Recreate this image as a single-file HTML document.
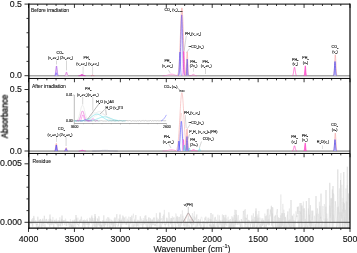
<!DOCTYPE html>
<html><head><meta charset="utf-8"><style>
html,body{margin:0;padding:0;background:#fff;width:357px;height:253px;overflow:hidden}
svg{display:block}
text{will-change:transform}
</style></head><body>
<svg width="357" height="253" viewBox="0 0 357 253">
<rect width="357" height="253" fill="#fff"/>
<defs>
<clipPath id="c1"><rect x="28.5" y="4.1" width="321.5" height="74.35000000000001"/></clipPath>
<clipPath id="c2"><rect x="28.5" y="78.45" width="321.5" height="74.99999999999999"/></clipPath>
<clipPath id="c3"><rect x="28.5" y="153.45" width="321.5" height="74.70000000000002"/></clipPath>
<linearGradient id="gp1" gradientUnits="userSpaceOnUse" x1="0" y1="15" x2="0" y2="70"><stop offset="0" stop-color="#b8a8f2"/><stop offset="0.5" stop-color="#e4e0fb"/><stop offset="1" stop-color="#ffffff"/></linearGradient>
</defs>
<line x1="28.5" x2="350.0" y1="75.8" y2="75.8" stroke="#a8a8a8" stroke-width="1.6"/>
<line x1="28.5" x2="350.0" y1="151.1" y2="151.1" stroke="#a8a8a8" stroke-width="1.6"/>
<g clip-path="url(#c3)">
<polyline points="28.84,228.43 29.34,224.72 29.84,223.88 30.34,223.27 30.84,221.96 31.34,223.54 31.84,219.36 32.34,226.45 32.84,218.17 33.34,223.23 33.84,215.92 34.34,221.97 34.84,222.26 35.34,221.58 35.84,220.37 36.34,225.24 36.84,223.98 37.34,225.04 37.84,216.74 38.34,222.45 38.84,221.75 39.34,219.92 39.84,226.86 40.34,219.00 40.84,222.24 41.34,222.38 41.84,230.30 42.34,219.55 42.84,225.77 43.34,225.97 43.84,226.02 44.34,215.78 44.84,222.25 45.34,220.96 45.84,220.66 46.34,218.95 46.84,222.48 47.34,223.83 47.84,224.07 48.34,221.34 48.84,221.48 49.34,224.64 49.84,226.81 50.34,218.77 50.84,220.28 51.34,222.44 51.84,224.40 52.34,220.15 52.84,224.19 53.34,223.38 53.84,229.37 54.34,220.16 54.84,221.06 55.34,223.68 55.84,221.38 56.34,224.32 56.84,220.50 57.34,223.01 57.84,224.74 58.34,225.64 58.84,220.20 59.34,222.80 59.84,220.54 60.34,225.83 60.84,222.50 61.34,223.39 61.84,219.87 62.34,225.54 62.84,222.15 63.34,221.79 63.84,220.60 64.34,221.62 64.84,220.41 65.34,220.25 65.84,224.79 66.34,226.06 66.84,221.75 67.34,222.18 67.84,221.71 68.34,222.44 68.84,222.62 69.34,226.92 69.84,226.92 70.34,223.68 70.84,223.80 71.34,227.32 71.84,224.82 72.34,228.13 72.84,220.81 73.34,228.01 73.84,225.19 74.34,219.66 74.84,228.30 75.34,229.50 75.84,225.99 76.34,219.18 76.84,221.65 77.34,224.20 77.84,225.03 78.34,224.32 78.84,226.40 79.34,222.23 79.84,219.79 80.34,222.12 80.84,219.17 81.34,216.63 81.84,220.24 82.34,223.97 82.84,227.20 83.34,220.03 83.84,225.25 84.34,219.68 84.84,227.99 85.34,222.17 85.84,220.01 86.34,223.04 86.84,222.63 87.34,220.25 87.84,224.91 88.34,222.20 88.84,224.34 89.34,221.95 89.84,217.74 90.34,221.08 90.84,222.15 91.34,222.87 91.84,216.70 92.34,221.42 92.84,218.23 93.34,221.06 93.84,225.38 94.34,226.84 94.84,221.23 95.34,216.43 95.84,227.02 96.34,221.47 96.84,224.95 97.34,218.43 97.84,222.18 98.34,225.33 98.84,216.28 99.34,218.62 99.84,226.38 100.34,221.07 100.84,227.99 101.34,224.93 101.84,226.61 102.34,221.30 102.84,220.48 103.34,226.28 103.84,215.36 104.34,227.35 104.84,221.62 105.34,224.91 105.84,223.04 106.34,221.26 106.84,221.57 107.34,225.83 107.84,217.22 108.34,220.14 108.84,221.90 109.34,223.95 109.84,223.28 110.34,228.13 110.84,229.83 111.34,221.95 111.84,224.83 112.34,222.73 112.84,228.21 113.34,223.15 113.84,226.70 114.34,218.22 114.84,217.46 115.34,228.90 115.84,221.13 116.34,218.62 116.84,214.19 117.34,220.87 117.84,221.03 118.34,226.12 118.84,218.74 119.34,220.73 119.84,220.10 120.34,223.45 120.84,227.58 121.34,219.96 121.84,223.14 122.34,220.43 122.84,215.53 123.34,218.32 123.84,221.61 124.34,217.53 124.84,223.39 125.34,223.32 125.84,224.70 126.34,222.46 126.84,225.14 127.34,221.11 127.84,221.15 128.34,220.49 128.84,228.41 129.34,223.45 129.84,221.73 130.34,217.08 130.84,223.42 131.34,219.75 131.84,215.60 132.34,222.37 132.84,222.66 133.34,224.76 133.84,227.31 134.34,219.61 134.84,222.54 135.34,222.86 135.84,215.10 136.34,226.79 136.84,222.10 137.34,226.12 137.84,219.80 138.34,221.64 138.84,226.50 139.34,222.69 139.84,220.52 140.34,216.32 140.84,221.34 141.34,221.64 141.84,222.03 142.34,225.20 142.84,229.53 143.34,220.41 143.84,221.14 144.34,224.02 144.84,224.10 145.34,221.08 145.84,215.36 146.34,221.62 146.84,219.32 147.34,225.88 147.84,230.30 148.34,222.55 148.84,217.65 149.34,225.20 149.84,228.18 150.34,218.33 150.84,221.69 151.34,227.95 151.84,219.54 152.34,219.94 152.84,225.25 153.34,218.53 153.84,217.62 154.34,224.00 154.84,226.07 155.34,224.06 155.84,225.59 156.34,226.40 156.84,217.67 157.34,221.63 157.84,223.19 158.34,221.67 158.84,220.19 159.34,220.80 159.84,230.30 160.34,222.74 160.84,229.55 161.34,227.05 161.84,222.24 162.34,223.34 162.84,224.36 163.34,221.93 163.84,214.55 164.34,219.31 164.84,224.99 165.34,224.20 165.84,224.93 166.34,223.35 166.84,217.63 167.34,222.07 167.84,222.20 168.34,225.77 168.84,212.35 169.34,216.45 169.84,219.22 170.34,224.38 170.84,222.13 171.34,218.02 171.84,230.30 172.34,220.36 172.84,218.59 173.34,219.02 173.84,218.19 174.34,220.90 174.84,224.23 175.34,225.72 175.84,227.71 176.34,219.30 176.84,216.73 177.34,224.01 177.84,217.39 178.34,226.23 178.84,223.04 179.34,216.87 179.84,226.35 180.34,226.79 180.84,214.31 181.34,224.15 181.84,219.62 182.34,221.22 182.84,215.75 183.34,219.56 183.84,224.37 184.34,226.45 184.84,224.80 185.34,221.96 185.84,221.54 186.34,223.53 186.84,226.81 187.34,226.74 187.84,222.64 188.34,215.54 188.84,219.01 189.34,222.52 189.84,218.83 190.34,224.19 190.84,221.23 191.34,223.37 191.84,227.99 192.34,221.76 192.84,219.98 193.34,221.10 193.84,224.32 194.34,216.55 194.84,220.07 195.34,219.50 195.84,217.86 196.34,218.26 196.84,214.42 197.34,225.43 197.84,223.43 198.34,219.13 198.84,220.00 199.34,224.09 199.84,224.84 200.34,219.35 200.84,228.70 201.34,225.02 201.84,224.55 202.34,223.24 202.84,222.46 203.34,221.48 203.84,230.30 204.34,226.53 204.84,217.72 205.34,220.35 205.84,216.64 206.34,219.11 206.84,223.78 207.34,223.96 207.84,222.22 208.34,219.47 208.84,221.93 209.34,226.32 209.84,224.51 210.34,226.48 210.84,224.64 211.34,230.30 211.84,226.29 212.34,229.24 212.84,214.41 213.34,228.95 213.84,224.14 214.34,229.50 214.84,218.17 215.34,216.88 215.84,220.91 216.34,219.85 216.84,220.87 217.34,222.58 217.84,226.64 218.34,230.30 218.84,227.70 219.34,219.72 219.84,220.20 220.34,220.59 220.84,223.47 221.34,227.92 221.84,222.81 222.34,219.71 222.84,229.88 223.34,224.68 223.84,215.01 224.34,228.55 224.84,217.48 225.34,224.71 225.84,214.85 226.34,224.86 226.84,225.81 227.34,222.65 227.84,222.25 228.34,221.65 228.84,220.26 229.34,229.05 229.84,220.12 230.34,219.00 230.84,228.68 231.34,222.95 231.84,224.83 232.34,223.31 232.84,218.47 233.34,230.27 233.84,223.21 234.34,215.05 234.84,230.30 235.34,220.04 235.84,225.01 236.34,214.54 236.84,214.95 237.34,217.56 237.84,225.02 238.34,222.74 238.84,223.00 239.34,220.55 239.84,223.28 240.34,226.71 240.84,226.50 241.34,219.00 241.84,222.73 242.34,222.93 242.84,221.81 243.34,211.01 243.84,213.53 244.34,222.76 244.84,223.50 245.34,217.65 245.84,224.89 246.34,218.06 246.84,219.79 247.34,214.55 247.84,229.77 248.34,225.42 248.84,219.96 249.34,220.76 249.84,223.14 250.34,225.43 250.84,224.17 251.34,223.54 251.84,215.50 252.34,218.55 252.84,227.93 253.34,219.51 253.84,220.05 254.34,227.03 254.84,216.93 255.34,221.78 255.84,220.35 256.34,230.30 256.84,224.72 257.34,217.95 257.84,226.99 258.34,217.75 258.84,224.77 259.34,224.39 259.84,227.25 260.34,223.85 260.84,226.06 261.34,230.30 261.84,220.38 262.34,225.54 262.84,221.53 263.34,220.03 263.84,223.98 264.34,227.19 264.84,225.22 265.34,221.61 265.84,216.24 266.34,226.49 266.84,223.47 267.34,209.29 267.84,224.76 268.34,224.13 268.84,218.72 269.34,225.02 269.84,216.84 270.34,209.49 270.84,214.56 271.34,205.74 271.84,225.60 272.34,213.55 272.84,230.30 273.34,228.55 273.84,225.77 274.34,221.59 274.84,218.70 275.34,215.34 275.84,230.30 276.34,214.14 276.84,212.06 277.34,209.07 277.84,230.21 278.34,217.35 278.84,222.22 279.34,230.12 279.84,218.01 280.34,227.86 280.84,215.32 281.34,227.05 281.84,213.19 282.34,225.79 282.84,213.02 283.34,229.07 283.84,228.12 284.34,213.21 284.84,230.30 285.34,217.23 285.84,225.34 286.34,230.30 286.84,230.06 287.34,218.96 287.84,211.42 288.34,224.64 288.84,220.47 289.34,227.40 289.84,219.41 290.34,224.32 290.84,230.30 291.34,226.82 291.84,226.15 292.34,215.57 292.84,219.07 293.34,229.76 293.84,220.34 294.34,221.71 294.84,230.30 295.34,222.11 295.84,220.41 296.34,215.50 296.84,216.86 297.34,206.92 297.84,213.94 298.34,206.54 298.84,226.14 299.34,229.94 299.84,211.08 300.34,213.41 300.84,212.58 301.34,230.30 301.84,205.78 302.34,226.11 302.84,227.44 303.34,208.51 303.84,221.03 304.34,208.31 304.84,230.30 305.34,230.30 305.84,229.30 306.34,201.02 306.84,225.04 307.34,225.63 307.84,230.30 308.34,224.50 308.84,223.97 309.34,214.66 309.84,226.12 310.34,205.16 310.84,228.77 311.34,224.33 311.84,210.63 312.34,219.78 312.84,210.70 313.34,227.87 313.84,228.72 314.34,230.30 314.84,230.30 315.34,223.72 315.84,230.30 316.34,225.97 316.84,214.17 317.34,208.39 317.84,219.28 318.34,230.30 318.84,230.30 319.34,221.71 319.84,206.08 320.34,218.60 320.84,216.78 321.34,230.30 321.84,230.30 322.34,221.96 322.84,220.78 323.34,227.17 323.84,230.30 324.34,228.67 324.84,223.79 325.34,218.57 325.84,230.30 326.34,224.04 326.84,218.60 327.34,230.17 327.84,230.30 328.34,230.30 328.84,230.30 329.34,214.82 329.84,205.62 330.34,217.73 330.84,212.00 331.34,198.28 331.84,220.38 332.34,189.45 332.84,230.30 333.34,193.44 333.84,194.91 334.34,222.97 334.84,222.72 335.34,201.22 335.84,207.72 336.34,228.95 336.84,226.05 337.34,225.47 337.84,207.31 338.34,216.46 338.84,230.30 339.34,230.30 339.84,212.42 340.34,230.30 340.84,229.13 341.34,212.47 341.84,218.50 342.34,209.47 342.84,230.30 343.34,201.97 343.84,212.39 344.34,203.33 344.84,230.30 345.34,209.79 345.84,223.91 346.34,201.36 346.84,224.65 347.34,202.10 347.84,230.30 348.34,193.43 348.84,202.88 349.34,219.77 349.84,207.41" fill="none" stroke="#d2d2d2" stroke-width="0.45"/>
<polyline points="28.86,225.42 29.36,225.33 29.86,220.98 30.36,222.91 30.86,222.72 31.36,223.81 31.86,222.73 32.36,222.96 32.86,226.55 33.36,223.17 33.86,217.80 34.36,220.92 34.86,223.85 35.36,221.98 35.86,221.48 36.36,227.14 36.86,224.43 37.36,225.42 37.86,228.02 38.36,225.92 38.86,228.57 39.36,223.15 39.86,223.23 40.36,219.64 40.86,221.25 41.36,222.62 41.86,220.62 42.36,220.15 42.86,218.57 43.36,223.96 43.86,219.75 44.36,223.41 44.86,228.64 45.36,226.17 45.86,220.55 46.36,219.09 46.86,221.15 47.36,224.13 47.86,220.32 48.36,219.37 48.86,224.67 49.36,221.02 49.86,219.28 50.36,224.78 50.86,219.40 51.36,225.13 51.86,225.22 52.36,223.20 52.86,216.88 53.36,221.61 53.86,222.74 54.36,223.29 54.86,219.72 55.36,221.56 55.86,220.33 56.36,218.64 56.86,222.28 57.36,226.54 57.86,222.13 58.36,227.42 58.86,224.36 59.36,225.79 59.86,217.28 60.36,223.80 60.86,226.50 61.36,220.10 61.86,218.85 62.36,223.94 62.86,220.54 63.36,222.12 63.86,220.08 64.36,225.03 64.86,222.54 65.36,218.62 65.86,219.55 66.36,221.83 66.86,225.64 67.36,221.63 67.86,223.01 68.36,221.45 68.86,225.12 69.36,222.86 69.86,224.86 70.36,219.25 70.86,226.93 71.36,223.40 71.86,226.28 72.36,220.27 72.86,220.26 73.36,222.10 73.86,221.85 74.36,220.74 74.86,222.59 75.36,224.32 75.86,224.49 76.36,217.83 76.86,219.76 77.36,223.38 77.86,217.61 78.36,222.63 78.86,221.70 79.36,224.09 79.86,220.47 80.36,222.92 80.86,219.40 81.36,219.36 81.86,222.65 82.36,221.78 82.86,223.90 83.36,220.22 83.86,223.22 84.36,222.56 84.86,221.77 85.36,223.99 85.86,224.00 86.36,225.08 86.86,219.18 87.36,218.67 87.86,223.91 88.36,230.30 88.86,221.23 89.36,225.39 89.86,221.99 90.36,218.74 90.86,220.95 91.36,223.51 91.86,215.28 92.36,227.65 92.86,220.30 93.36,220.49 93.86,221.75 94.36,225.50 94.86,218.38 95.36,220.23 95.86,222.05 96.36,227.74 96.86,223.24 97.36,226.71 97.86,219.06 98.36,220.91 98.86,222.42 99.36,222.94 99.86,226.30 100.36,224.24 100.86,223.32 101.36,225.37 101.86,226.94 102.36,223.80 102.86,220.34 103.36,220.01 103.86,220.76 104.36,222.46 104.86,226.15 105.36,220.96 105.86,221.25 106.36,218.68 106.86,222.08 107.36,229.68 107.86,224.05 108.36,224.52 108.86,217.64 109.36,229.46 109.86,218.94 110.36,222.83 110.86,224.16 111.36,219.72 111.86,223.18 112.36,220.55 112.86,222.42 113.36,223.63 113.86,223.99 114.36,219.59 114.86,225.74 115.36,217.83 115.86,218.40 116.36,223.95 116.86,225.10 117.36,225.58 117.86,226.64 118.36,224.67 118.86,224.74 119.36,220.67 119.86,223.05 120.36,222.50 120.86,225.01 121.36,227.46 121.86,218.65 122.36,224.60 122.86,222.17 123.36,216.82 123.86,224.56 124.36,221.14 124.86,222.35 125.36,222.33 125.86,216.55 126.36,220.91 126.86,223.87 127.36,218.68 127.86,220.50 128.36,222.01 128.86,216.59 129.36,228.90 129.86,224.41 130.36,224.06 130.86,221.20 131.36,218.29 131.86,226.86 132.36,227.07 132.86,218.28 133.36,213.71 133.86,218.13 134.36,218.59 134.86,225.94 135.36,222.81 135.86,222.06 136.36,224.09 136.86,224.20 137.36,221.58 137.86,220.76 138.36,221.19 138.86,221.13 139.36,223.64 139.86,220.62 140.36,222.57 140.86,225.37 141.36,219.50 141.86,218.63 142.36,225.34 142.86,220.34 143.36,225.21 143.86,218.09 144.36,223.75 144.86,215.78 145.36,223.91 145.86,225.55 146.36,222.49 146.86,230.30 147.36,224.65 147.86,220.99 148.36,223.66 148.86,217.37 149.36,223.80 149.86,221.36 150.36,224.98 150.86,220.84 151.36,225.83 151.86,224.57 152.36,219.60 152.86,220.62 153.36,223.80 153.86,225.00 154.36,217.59 154.86,221.61 155.36,225.17 155.86,221.66 156.36,213.20 156.86,224.01 157.36,219.97 157.86,226.63 158.36,218.84 158.86,220.76 159.36,220.25 159.86,212.18 160.36,220.17 160.86,219.62 161.36,219.83 161.86,218.00 162.36,222.43 162.86,216.03 163.36,217.21 163.86,219.65 164.36,209.88 164.86,224.81 165.36,226.47 165.86,223.26 166.36,223.61 166.86,218.38 167.36,221.27 167.86,221.21 168.36,221.85 168.86,226.96 169.36,221.53 169.86,218.54 170.36,221.33 170.86,223.63 171.36,218.08 171.86,223.10 172.36,216.34 172.86,230.30 173.36,218.58 173.86,216.91 174.36,217.94 174.86,218.66 175.36,225.21 175.86,213.49 176.36,215.91 176.86,221.24 177.36,216.17 177.86,217.11 178.36,226.55 178.86,228.49 179.36,230.10 179.86,222.35 180.36,222.49 180.86,225.09 181.36,225.68 181.86,221.80 182.36,210.45 182.86,220.18 183.36,225.83 183.86,223.39 184.36,224.51 184.86,220.00 185.36,222.33 185.86,226.56 186.36,221.87 186.86,222.39 187.36,225.62 187.86,218.56 188.36,226.13 188.86,225.44 189.36,230.30 189.86,222.93 190.36,222.34 190.86,219.33 191.36,219.87 191.86,225.24 192.36,212.99 192.86,216.74 193.36,225.17 193.86,215.91 194.36,211.43 194.86,220.05 195.36,230.30 195.86,227.36 196.36,216.45 196.86,226.92 197.36,222.63 197.86,226.29 198.36,220.98 198.86,223.06 199.36,222.26 199.86,226.08 200.36,219.78 200.86,218.15 201.36,216.78 201.86,217.37 202.36,220.81 202.86,221.01 203.36,230.30 203.86,225.59 204.36,229.65 204.86,224.01 205.36,223.29 205.86,222.13 206.36,226.48 206.86,230.30 207.36,227.59 207.86,217.80 208.36,219.63 208.86,217.68 209.36,220.37 209.86,219.09 210.36,226.35 210.86,218.88 211.36,226.33 211.86,224.65 212.36,223.27 212.86,225.13 213.36,227.38 213.86,223.74 214.36,227.01 214.86,217.73 215.36,230.30 215.86,226.44 216.36,225.31 216.86,222.05 217.36,227.38 217.86,214.67 218.36,227.15 218.86,224.52 219.36,215.45 219.86,224.49 220.36,221.67 220.86,225.22 221.36,223.97 221.86,223.68 222.36,214.43 222.86,228.08 223.36,215.75 223.86,224.39 224.36,222.79 224.86,228.38 225.36,225.55 225.86,223.08 226.36,218.88 226.86,218.57 227.36,223.21 227.86,217.10 228.36,216.76 228.86,229.05 229.36,222.86 229.86,227.81 230.36,221.31 230.86,225.75 231.36,227.47 231.86,216.24 232.36,227.34 232.86,216.94 233.36,226.18 233.86,224.01 234.36,213.89 234.86,209.70 235.36,220.55 235.86,223.55 236.36,218.30 236.86,222.81 237.36,223.89 237.86,223.83 238.36,215.17 238.86,223.08 239.36,224.19 239.86,222.55 240.36,226.71 240.86,223.05 241.36,223.69 241.86,230.30 242.36,228.47 242.86,221.79 243.36,219.57 243.86,219.20 244.36,209.85 244.86,227.35 245.36,209.16 245.86,230.30 246.36,228.69 246.86,226.41 247.36,220.35 247.86,223.17 248.36,219.88 248.86,221.81 249.36,221.01 249.86,222.10 250.36,229.02 250.86,223.14 251.36,220.36 251.86,222.29 252.36,219.63 252.86,226.95 253.36,213.31 253.86,221.45 254.36,227.03 254.86,223.09 255.36,221.22 255.86,211.25 256.36,222.43 256.86,216.11 257.36,221.72 257.86,214.36 258.36,222.65 258.86,211.02 259.36,223.87 259.86,217.59 260.36,219.16 260.86,229.07 261.36,222.16 261.86,218.33 262.36,225.97 262.86,218.41 263.36,224.65 263.86,220.27 264.36,227.69 264.86,213.55 265.36,230.30 265.86,227.65 266.36,215.38 266.86,221.21 267.36,219.45 267.86,224.01 268.36,208.78 268.86,225.74 269.36,216.24 269.86,214.77 270.36,216.21 270.86,215.29 271.36,215.82 271.86,224.45 272.36,226.15 272.86,207.54 273.36,223.46 273.86,220.64 274.36,216.68 274.86,216.80 275.36,221.69 275.86,230.25 276.36,221.86 276.86,219.71 277.36,215.33 277.86,225.92 278.36,227.39 278.86,224.65 279.36,230.30 279.86,219.98 280.36,216.31 280.86,194.52 281.36,221.29 281.86,229.34 282.36,216.97 282.86,203.92 283.36,219.89 283.86,209.72 284.36,230.30 284.86,221.30 285.36,216.83 285.86,220.83 286.36,230.30 286.86,220.54 287.36,214.95 287.86,228.91 288.36,228.89 288.86,220.61 289.36,208.49 289.86,228.23 290.36,230.30 290.86,223.56 291.36,223.26 291.86,228.02 292.36,216.13 292.86,224.43 293.36,228.23 293.86,213.75 294.36,230.30 294.86,223.02 295.36,223.60 295.86,211.43 296.36,213.94 296.86,216.96 297.36,215.48 297.86,223.60 298.36,220.34 298.86,228.38 299.36,222.86 299.86,203.14 300.36,230.30 300.86,229.69 301.36,226.70 301.86,205.32 302.36,220.18 302.86,216.20 303.36,201.60 303.86,225.11 304.36,226.43 304.86,230.30 305.36,219.05 305.86,229.90 306.36,210.67 306.86,220.60 307.36,230.30 307.86,230.30 308.36,208.49 308.86,216.33 309.36,216.17 309.86,228.78 310.36,220.75 310.86,230.30 311.36,222.84 311.86,225.99 312.36,217.45 312.86,230.30 313.36,230.30 313.86,230.30 314.36,215.73 314.86,221.34 315.36,230.30 315.86,230.30 316.36,226.03 316.86,213.75 317.36,230.30 317.86,230.30 318.36,213.85 318.86,227.60 319.36,201.78 319.86,227.26 320.36,230.30 320.86,224.35 321.36,230.30 321.86,225.50 322.36,216.96 322.86,205.97 323.36,218.40 323.86,220.45 324.36,204.12 324.86,228.40 325.36,220.88 325.86,206.73 326.36,230.30 326.86,213.55 327.36,230.30 327.86,230.30 328.36,230.30 328.86,230.30 329.36,221.79 329.86,227.38 330.36,225.69 330.86,198.29 331.36,219.94 331.86,230.30 332.36,229.08 332.86,219.21 333.36,214.83 333.86,225.84 334.36,228.28 334.86,230.30 335.36,230.30 335.86,230.30 336.36,230.30 336.86,230.30 337.36,218.28 337.86,214.65 338.36,206.47 338.86,214.42 339.36,188.42 339.86,230.30 340.36,230.30 340.86,173.22 341.36,215.44 341.86,184.72 342.36,230.30 342.86,198.13 343.36,227.89 343.86,230.30 344.36,230.30 344.86,217.15 345.36,230.30 345.86,188.52 346.36,205.47 346.86,230.30 347.36,184.99 347.86,227.94 348.36,223.35 348.86,230.30 349.36,230.30 349.86,230.30" fill="none" stroke="#dedede" stroke-width="0.45"/>
<polyline points="49.4,222.3 50.0,214.5 50.6,222.3" fill="none" stroke="#d0d0d0" stroke-width="0.5"/>
<polyline points="61.4,222.3 62.0,215.5 62.6,222.3" fill="none" stroke="#d0d0d0" stroke-width="0.5"/>
<polyline points="75.4,222.3 76.0,215 76.6,222.3" fill="none" stroke="#d0d0d0" stroke-width="0.5"/>
<polyline points="94.4,222.3 95.0,214 95.6,222.3" fill="none" stroke="#d0d0d0" stroke-width="0.5"/>
<polyline points="119.4,222.3 120.0,214.5 120.6,222.3" fill="none" stroke="#d0d0d0" stroke-width="0.5"/>
<polyline points="159.4,222.3 160.0,213 160.6,222.3" fill="none" stroke="#d0d0d0" stroke-width="0.5"/>
<polyline points="210.4,222.3 211.0,213 211.6,222.3" fill="none" stroke="#d0d0d0" stroke-width="0.5"/>
<polyline points="235.4,222.3 236.0,210 236.6,222.3" fill="none" stroke="#d0d0d0" stroke-width="0.5"/>
<polyline points="255.4,222.3 256.0,208.4 256.6,222.3" fill="none" stroke="#d0d0d0" stroke-width="0.5"/>
<polyline points="271.4,222.3 272.0,207 272.6,222.3" fill="none" stroke="#d0d0d0" stroke-width="0.5"/>
<polyline points="290.4,222.3 291.0,200 291.6,222.3" fill="none" stroke="#d0d0d0" stroke-width="0.5"/>
<polyline points="300.4,222.3 301.0,203 301.6,222.3" fill="none" stroke="#d0d0d0" stroke-width="0.5"/>
<polyline points="308.4,222.3 309.0,198 309.6,222.3" fill="none" stroke="#d0d0d0" stroke-width="0.5"/>
<polyline points="315.4,222.3 316.0,196 316.6,222.3" fill="none" stroke="#d0d0d0" stroke-width="0.5"/>
<polyline points="320.4,222.3 321.0,193.6 321.6,222.3" fill="none" stroke="#d0d0d0" stroke-width="0.5"/>
<polyline points="325.4,222.3 326.0,190 326.6,222.3" fill="none" stroke="#d0d0d0" stroke-width="0.5"/>
<polyline points="329.2,222.3 329.8,182.8 330.4,222.3" fill="none" stroke="#d0d0d0" stroke-width="0.5"/>
<polyline points="332.4,222.3 333.0,186 333.6,222.3" fill="none" stroke="#d0d0d0" stroke-width="0.5"/>
<polyline points="337.2,222.3 337.8,169.4 338.4,222.3" fill="none" stroke="#d0d0d0" stroke-width="0.5"/>
<polyline points="339.9,222.3 340.5,180 341.1,222.3" fill="none" stroke="#d0d0d0" stroke-width="0.5"/>
<polyline points="343.2,222.3 343.8,172 344.4,222.3" fill="none" stroke="#d0d0d0" stroke-width="0.5"/>
<polyline points="346.7,222.3 347.3,166.7 347.9,222.3" fill="none" stroke="#d0d0d0" stroke-width="0.5"/>
</g>
<line x1="28.5" x2="350.0" y1="222.3" y2="222.3" stroke="#3a3a3a" stroke-width="0.9"/>
<polyline points="183,222.3 188.3,212.6 194,222.3" fill="none" stroke="#8a8a8a" stroke-width="0.65"/>
<polyline points="184,222.3 188.3,213.4 193,222.3" fill="none" stroke="#d8a0a0" stroke-width="0.35"/>
<line x1="188.3" y1="207" x2="188.3" y2="212" stroke="#888" stroke-width="0.4"/>
<text x="188.3" y="206.2" text-anchor="middle" font-size="3.6" font-family="Liberation Sans, sans-serif" fill="#222" stroke="#222" stroke-width="0.13">ν(PH)</text>
<g clip-path="url(#c1)">
<polyline points="162.54,75.69 162.64,75.69 162.74,75.69 162.84,75.69 162.94,75.68 163.04,75.68 163.14,75.68 163.24,75.68 163.34,75.68 163.44,75.67 163.54,75.67 163.64,75.67 163.74,75.66 163.84,75.66 163.94,75.66 164.04,75.65 164.14,75.65 164.24,75.64 164.34,75.64 164.44,75.63 164.54,75.62 164.64,75.62 164.74,75.61 164.84,75.60 164.94,75.59 165.04,75.58 165.14,75.57 165.24,75.56 165.34,75.55 165.44,75.54 165.54,75.52 165.64,75.51 165.74,75.50 165.84,75.48 165.94,75.46 166.04,75.45 166.14,75.43 166.24,75.41 166.34,75.39 166.44,75.37 166.54,75.35 166.64,75.32 166.74,75.30 166.84,75.27 166.94,75.25 167.04,75.22 167.14,75.19 167.24,75.17 167.34,75.14 167.44,75.11 167.54,75.07 167.64,75.04 167.74,75.01 167.84,74.98 167.94,74.94 168.04,74.91 168.14,74.87 168.24,74.84 168.34,74.80 168.44,74.76 168.54,74.73 168.64,74.69 168.74,74.65 168.84,74.62 168.94,74.58 169.04,74.54 169.14,74.51 169.24,74.47 169.34,74.44 169.44,74.40 169.54,74.37 169.64,74.34 169.74,74.30 169.84,74.27 169.94,74.24 170.04,74.22 170.14,74.19 170.24,74.16 170.34,74.14 170.44,74.12 170.54,74.10 170.64,74.08 170.74,74.06 170.84,74.05 170.94,74.03 171.04,74.02 171.14,74.01 171.24,74.01 171.34,74.00 171.44,74.00 171.54,74.00 171.64,74.00 171.74,74.01 171.84,74.01 171.94,74.02 172.04,74.03 172.14,74.04 172.24,74.06 172.34,74.07 172.44,74.09 172.54,74.11 172.64,74.14 172.74,74.16 172.84,74.18 172.94,74.21 173.04,74.24 173.14,74.27 173.24,74.30 173.34,74.33 173.44,74.36 173.54,74.40 173.64,74.43 173.74,74.47 173.84,74.50 173.94,74.54 174.04,74.57 174.14,74.61 174.24,74.65 174.34,74.68 174.44,74.72 174.54,74.76 174.64,74.79 174.74,74.83 174.84,74.87 174.94,74.90 175.04,74.94 175.14,74.97 175.24,75.00 175.34,75.04 175.44,75.07 175.54,75.10 175.64,75.13 175.74,75.16 175.84,75.19 175.94,75.22 176.04,75.24 176.14,75.27 176.24,75.29 176.34,75.32 176.44,75.34 176.54,75.36 176.64,75.38 176.74,75.40 176.84,75.42 176.94,75.44 177.04,75.46 177.14,75.48 177.24,75.49 177.34,75.51 177.44,75.52 177.54,75.53 177.64,75.55 177.74,75.56 177.84,75.57 177.94,75.58 178.04,75.59 178.14,75.60 178.24,75.61 178.34,75.61 178.44,75.62 178.54,75.63 178.64,75.63 178.74,75.64 178.84,75.65 178.94,75.65 179.04,75.65 179.14,75.66 179.24,75.66 179.34,75.67 179.44,75.67 179.54,75.67 179.64,75.68 179.74,75.68 179.84,75.68 179.94,75.68 180.04,75.68 180.14,75.69 180.24,75.69 180.34,75.69 180.44,75.69" fill="#ffc0e8" fill-opacity="0.5" stroke="#f070c8" stroke-width="0.5" stroke-opacity="1.0" stroke-linejoin="round"/>
<polyline points="54.52,75.64 54.62,75.60 54.72,75.55 54.82,75.46 54.92,75.33 55.02,75.15 55.12,74.90 55.22,74.56 55.32,74.13 55.42,73.60 55.52,72.95 55.62,72.19 55.72,71.34 55.82,70.42 55.92,69.48 56.02,68.55 56.12,67.69 56.22,66.97 56.32,66.42 56.42,66.09 56.52,66.00 56.62,66.17 56.72,66.57 56.82,67.18 56.92,67.96 57.02,68.84 57.12,69.78 57.22,70.72 57.32,71.62 57.42,72.44 57.52,73.17 57.62,73.78 57.72,74.28 57.82,74.68 57.92,74.99 58.02,75.21 58.12,75.38 58.22,75.49 58.32,75.57 58.42,75.62" fill="#e8d0fa" fill-opacity="0.8" stroke="#a040e0" stroke-width="0.6" stroke-opacity="1.0" stroke-linejoin="round"/>
<polyline points="55.02,75.68 55.12,75.66 55.22,75.62 55.32,75.56 55.42,75.44 55.52,75.27 55.62,75.02 55.72,74.69 55.82,74.29 55.92,73.85 56.02,73.43 56.12,73.08 56.22,72.86 56.32,72.80 56.42,72.93 56.52,73.21 56.62,73.59 56.72,74.03 56.82,74.45 56.92,74.83 57.02,75.13 57.12,75.35 57.22,75.49 57.32,75.59 57.42,75.64 57.52,75.67" fill="none" fill-opacity="1.0" stroke="#4040ff" stroke-width="0.5" stroke-opacity="1.0" stroke-linejoin="round"/>
<polyline points="64.52,75.68 64.62,75.66 64.72,75.64 64.82,75.61 64.92,75.56 65.02,75.49 65.12,75.40 65.22,75.28 65.32,75.12 65.42,74.92 65.52,74.68 65.62,74.40 65.72,74.08 65.82,73.74 65.92,73.39 66.02,73.05 66.12,72.73 66.22,72.46 66.32,72.26 66.42,72.13 66.52,72.10 66.62,72.16 66.72,72.31 66.82,72.54 66.92,72.83 67.02,73.15 67.12,73.50 67.22,73.85 67.32,74.19 67.42,74.49 67.52,74.76 67.62,74.99 67.72,75.17 67.82,75.32 67.92,75.43 68.02,75.52 68.12,75.58 68.22,75.62 68.32,75.65 68.42,75.67" fill="#f4d8f4" fill-opacity="0.8" stroke="#d040d0" stroke-width="0.55" stroke-opacity="1.0" stroke-linejoin="round"/>
<polyline points="78.48,75.69 78.58,75.69 78.68,75.69 78.78,75.68 78.88,75.68 78.98,75.67 79.08,75.66 79.18,75.66 79.28,75.64 79.38,75.63 79.48,75.61 79.58,75.59 79.68,75.57 79.78,75.54 79.88,75.51 79.98,75.48 80.08,75.44 80.18,75.39 80.28,75.35 80.38,75.29 80.48,75.24 80.58,75.18 80.68,75.12 80.78,75.05 80.88,74.99 80.98,74.92 81.08,74.85 81.18,74.79 81.28,74.73 81.38,74.68 81.48,74.63 81.58,74.58 81.68,74.55 81.78,74.52 81.88,74.51 81.98,74.50 82.08,74.50 82.18,74.52 82.28,74.54 82.38,74.57 82.48,74.61 82.58,74.66 82.68,74.71 82.78,74.77 82.88,74.83 82.98,74.89 83.08,74.96 83.18,75.03 83.28,75.09 83.38,75.15 83.48,75.21 83.58,75.27 83.68,75.33 83.78,75.38 83.88,75.42 83.98,75.46 84.08,75.50 84.18,75.53 84.28,75.56 84.38,75.58 84.48,75.61 84.58,75.62 84.68,75.64 84.78,75.65 84.88,75.66 84.98,75.67 85.08,75.68 85.18,75.68 85.28,75.69 85.38,75.69 85.48,75.69" fill="#e010c0" fill-opacity="0.7" stroke="#e010c0" stroke-width="0.6" stroke-opacity="1.0" stroke-linejoin="round"/>
<polyline points="91.00,75.70 91.10,75.69 91.20,75.69 91.30,75.68 91.40,75.66 91.50,75.64 91.60,75.61 91.70,75.56 91.80,75.51 91.90,75.44 92.00,75.36 92.10,75.28 92.20,75.19 92.30,75.12 92.40,75.05 92.50,75.01 92.60,75.00 92.70,75.01 92.80,75.05 92.90,75.12 93.00,75.19 93.10,75.28 93.20,75.36 93.30,75.44 93.40,75.51 93.50,75.56 93.60,75.61 93.70,75.64 93.80,75.66 93.90,75.68 94.00,75.69 94.10,75.69 94.20,75.70" fill="none" fill-opacity="1.0" stroke="#e04070" stroke-width="0.5" stroke-opacity="1.0" stroke-linejoin="round"/>
<polyline points="177.26,75.29 177.36,75.20 177.46,75.08 177.56,74.93 177.66,74.76 177.76,74.55 177.86,74.30 177.96,74.01 178.06,73.67 178.16,73.26 178.26,72.80 178.36,72.26 178.46,71.64 178.56,70.92 178.66,70.11 178.76,69.20 178.86,68.17 178.96,67.02 179.06,65.74 179.16,64.33 179.26,62.78 179.36,61.08 179.46,59.24 179.56,57.26 179.66,55.14 179.76,52.88 179.86,50.50 179.96,48.00 180.06,45.39 180.16,42.70 180.26,39.94 180.36,37.13 180.46,34.29 180.56,31.46 180.66,28.66 180.76,25.93 180.86,23.28 180.96,20.75 181.06,18.37 181.16,16.18 181.26,14.19 181.36,12.44 181.46,10.95 181.56,9.74 181.66,8.82 181.76,8.22 181.86,7.93 181.96,7.96 182.06,8.31 182.16,8.98 182.26,9.96 182.36,11.23 182.46,12.77 182.56,14.57 182.66,16.60 182.76,18.84 182.86,21.24 182.96,23.80 183.06,26.47 183.16,29.22 183.26,32.03 183.36,34.86 183.46,37.69 183.56,40.49 183.66,43.24 183.76,45.92 183.86,48.51 183.96,50.99 184.06,53.35 184.16,55.58 184.26,57.67 184.36,59.62 184.46,61.43 184.56,63.10 184.66,64.62 184.76,66.01 184.86,67.26 184.96,68.39 185.06,69.39 185.16,70.28 185.26,71.07 185.36,71.77 185.46,72.37 185.56,72.90 185.66,73.35 185.76,73.74 185.86,74.07 185.96,74.35 186.06,74.59 186.16,74.79 186.26,74.96 186.36,75.10 186.46,75.22" fill="#fff4f4" fill-opacity="0.9" stroke="#f4a0a0" stroke-width="0.65" stroke-opacity="1.0" stroke-linejoin="round"/>
<polyline points="178.76,75.34 178.86,75.19 178.96,74.99 179.06,74.72 179.16,74.37 179.26,73.91 179.36,73.33 179.46,72.59 179.56,71.67 179.66,70.54 179.76,69.17 179.86,67.53 179.96,65.60 180.06,63.36 180.16,60.81 180.26,57.93 180.36,54.75 180.46,51.29 180.56,47.59 180.66,43.71 180.76,39.73 180.86,35.72 180.96,31.79 181.06,28.03 181.16,24.57 181.26,21.49 181.36,18.91 181.46,16.90 181.56,15.54 181.66,14.87 181.76,14.91 181.86,15.67 181.96,17.11 182.06,19.19 182.16,21.84 182.26,24.97 182.36,28.47 182.46,32.25 182.56,36.20 182.66,40.21 182.76,44.18 182.86,48.04 182.96,51.72 183.06,55.15 183.16,58.29 183.26,61.13 183.36,63.65 183.46,65.85 183.56,67.74 183.66,69.35 183.76,70.69 183.86,71.79 183.96,72.69 184.06,73.41 184.16,73.97 184.26,74.42 184.36,74.76 184.46,75.01 184.56,75.21" fill="url(#gp1)" fill-opacity="1" stroke="#8464e2" stroke-width="0.7" stroke-opacity="1.0" stroke-linejoin="round"/>
<polyline points="178.30,75.56 178.40,75.44 178.50,75.23 178.60,74.89 178.70,74.37 178.80,73.59 178.90,72.49 179.00,71.01 179.10,69.11 179.20,66.81 179.30,64.16 179.40,61.33 179.50,58.49 179.60,55.90 179.70,53.82 179.80,52.47 179.90,52.00 180.00,52.47 180.10,53.82 180.20,55.90 180.30,58.49 180.40,61.33 180.50,64.16 180.60,66.81 180.70,69.11 180.80,71.01 180.90,72.49 181.00,73.59 181.10,74.37 181.20,74.89 181.30,75.23 181.40,75.44 181.50,75.56" fill="none" fill-opacity="1.0" stroke="#4848ff" stroke-width="0.55" stroke-opacity="1.0" stroke-linejoin="round"/>
<polyline points="182.58,75.55 182.68,75.35 182.78,74.93 182.88,74.14 182.98,72.77 183.08,70.64 183.18,67.64 183.28,63.87 183.38,59.70 183.48,55.76 183.58,52.79 183.68,51.44 183.78,52.03 183.88,54.41 183.98,58.05 184.08,62.22 184.18,66.21 184.28,69.54 184.38,72.02 184.48,73.67 184.58,74.67 184.68,75.22 184.78,75.49" fill="none" fill-opacity="1.0" stroke="#ff30d0" stroke-width="0.55" stroke-opacity="1.0" stroke-linejoin="round"/>
<polyline points="185.44,75.56 185.54,75.45 185.64,75.27 185.74,74.99 185.84,74.58 185.94,73.97 186.04,73.11 186.14,71.97 186.24,70.49 186.34,68.66 186.44,66.50 186.54,64.07 186.64,61.47 186.74,58.85 186.84,56.41 186.94,54.33 187.04,52.79 187.14,51.94 187.24,51.86 187.34,52.56 187.44,53.97 187.54,55.96 187.64,58.35 187.74,60.94 187.84,63.56 187.94,66.03 188.04,68.25 188.14,70.15 188.24,71.70 188.34,72.91 188.44,73.82 188.54,74.47 188.64,74.92 188.74,75.23 188.84,75.42 188.94,75.54" fill="#ffe8e8" fill-opacity="0.6" stroke="#f4a0a0" stroke-width="0.6" stroke-opacity="1.0" stroke-linejoin="round"/>
<polyline points="185.92,75.60 186.02,75.48 186.12,75.26 186.22,74.87 186.32,74.22 186.42,73.21 186.52,71.76 186.62,69.86 186.72,67.57 186.82,65.06 186.92,62.63 187.02,60.61 187.12,59.33 187.22,59.02 187.32,59.73 187.42,61.34 187.52,63.57 187.62,66.08 187.72,68.53 187.82,70.68 187.92,72.40 188.02,73.66 188.12,74.51 188.22,75.05 188.32,75.37 188.42,75.54" fill="#9070e8" fill-opacity="0.6" stroke="#6048e0" stroke-width="0.6" stroke-opacity="1.0" stroke-linejoin="round"/>
<polyline points="189.78,75.69 189.88,75.69 189.98,75.69 190.08,75.68 190.18,75.67 190.28,75.67 190.38,75.66 190.48,75.65 190.58,75.63 190.68,75.62 190.78,75.60 190.88,75.58 190.98,75.55 191.08,75.52 191.18,75.48 191.28,75.44 191.38,75.39 191.48,75.34 191.58,75.29 191.68,75.23 191.78,75.16 191.88,75.09 191.98,75.02 192.08,74.94 192.18,74.87 192.28,74.79 192.38,74.71 192.48,74.64 192.58,74.57 192.68,74.51 192.78,74.45 192.88,74.40 192.98,74.36 193.08,74.33 193.18,74.31 193.28,74.30 193.38,74.30 193.48,74.32 193.58,74.34 193.68,74.38 193.78,74.43 193.88,74.48 193.98,74.54 194.08,74.61 194.18,74.68 194.28,74.76 194.38,74.84 194.48,74.91 194.58,74.99 194.68,75.06 194.78,75.13 194.88,75.20 194.98,75.26 195.08,75.32 195.18,75.38 195.28,75.42 195.38,75.47 195.48,75.50 195.58,75.54 195.68,75.57 195.78,75.59 195.88,75.61 195.98,75.63 196.08,75.64 196.18,75.65 196.28,75.66 196.38,75.67 196.48,75.68 196.58,75.68 196.68,75.69 196.78,75.69" fill="#ff90d0" fill-opacity="0.4" stroke="#f060c0" stroke-width="0.5" stroke-opacity="1.0" stroke-linejoin="round"/>
<polyline points="292.20,75.65 292.30,75.62 292.40,75.58 292.50,75.52 292.60,75.44 292.70,75.33 292.80,75.18 292.90,74.99 293.00,74.74 293.10,74.43 293.20,74.05 293.30,73.60 293.40,73.08 293.50,72.48 293.60,71.84 293.70,71.14 293.80,70.43 293.90,69.72 294.00,69.05 294.10,68.44 294.20,67.92 294.30,67.53 294.40,67.29 294.50,67.20 294.60,67.28 294.70,67.51 294.80,67.89 294.90,68.39 295.00,69.00 295.10,69.67 295.20,70.37 295.30,71.09 295.40,71.78 295.50,72.43 295.60,73.03 295.70,73.56 295.80,74.02 295.90,74.40 296.00,74.72 296.10,74.97 296.20,75.17 296.30,75.32 296.40,75.43 296.50,75.52 296.60,75.58 296.70,75.62 296.80,75.65" fill="none" fill-opacity="1.0" stroke="#ff30c0" stroke-width="0.6" stroke-opacity="1.0" stroke-linejoin="round"/>
<polyline points="303.86,75.64 303.96,75.58 304.06,75.48 304.16,75.30 304.26,75.01 304.36,74.58 304.46,73.97 304.56,73.14 304.66,72.10 304.76,70.88 304.86,69.56 304.96,68.26 305.06,67.11 305.16,66.27 305.26,65.84 305.36,65.89 305.46,66.41 305.56,67.32 305.66,68.51 305.76,69.83 305.86,71.14 305.96,72.32 306.06,73.32 306.16,74.11 306.26,74.68 306.36,75.08 306.46,75.34 306.56,75.50 306.66,75.60" fill="#ff50d0" fill-opacity="0.8" stroke="#ff30c0" stroke-width="0.6" stroke-opacity="1.0" stroke-linejoin="round"/>
<polyline points="333.38,75.58 333.48,75.49 333.58,75.36 333.68,75.15 333.78,74.86 333.88,74.43 333.98,73.84 334.08,73.06 334.18,72.04 334.28,70.77 334.38,69.25 334.48,67.49 334.58,65.53 334.68,63.45 334.78,61.34 334.88,59.34 334.98,57.57 335.08,56.16 335.18,55.21 335.28,54.81 335.38,54.98 335.48,55.72 335.58,56.96 335.68,58.60 335.78,60.52 335.88,62.60 335.98,64.70 336.08,66.72 336.18,68.57 336.28,70.19 336.38,71.56 336.48,72.68 336.58,73.55 336.68,74.22 336.78,74.70 336.88,75.05 336.98,75.29 337.08,75.44 337.18,75.55" fill="#ffeeee" fill-opacity="0.6" stroke="#f4a0a0" stroke-width="0.6" stroke-opacity="1.0" stroke-linejoin="round"/>
<polyline points="333.40,75.62 333.50,75.54 333.60,75.42 333.70,75.22 333.80,74.90 333.90,74.44 334.00,73.78 334.10,72.89 334.20,71.75 334.30,70.37 334.40,68.79 334.50,67.09 334.60,65.39 334.70,63.84 334.80,62.59 334.90,61.78 335.00,61.50 335.10,61.78 335.20,62.59 335.30,63.84 335.40,65.39 335.50,67.09 335.60,68.79 335.70,70.37 335.80,71.75 335.90,72.89 336.00,73.78 336.10,74.44 336.20,74.90 336.30,75.22 336.40,75.42 336.50,75.54 336.60,75.62" fill="#a0a0ff" fill-opacity="0.5" stroke="#3030f0" stroke-width="0.6" stroke-opacity="1.0" stroke-linejoin="round"/>
</g>
<g clip-path="url(#c2)">
<polyline points="54.32,150.96 54.42,150.93 54.52,150.88 54.62,150.81 54.72,150.71 54.82,150.57 54.92,150.38 55.02,150.12 55.12,149.79 55.22,149.37 55.32,148.87 55.42,148.29 55.52,147.63 55.62,146.92 55.72,146.19 55.82,145.47 55.92,144.81 56.02,144.25 56.12,143.82 56.22,143.57 56.32,143.50 56.42,143.63 56.52,143.94 56.62,144.41 56.72,145.01 56.82,145.70 56.92,146.42 57.02,147.15 57.12,147.85 57.22,148.48 57.32,149.04 57.42,149.52 57.52,149.90 57.62,150.21 57.72,150.45 57.82,150.62 57.92,150.75 58.02,150.84 58.12,150.90 58.22,150.94" fill="#ffe0e0" fill-opacity="0.6" stroke="#f08080" stroke-width="0.55" stroke-opacity="1.0" stroke-linejoin="round"/>
<polyline points="54.70,150.96 54.80,150.93 54.90,150.88 55.00,150.80 55.10,150.66 55.20,150.47 55.30,150.19 55.40,149.81 55.50,149.33 55.60,148.75 55.70,148.08 55.80,147.36 55.90,146.64 56.00,145.99 56.10,145.46 56.20,145.12 56.30,145.00 56.40,145.12 56.50,145.46 56.60,145.99 56.70,146.64 56.80,147.36 56.90,148.08 57.00,148.75 57.10,149.33 57.20,149.81 57.30,150.19 57.40,150.47 57.50,150.66 57.60,150.80 57.70,150.88 57.80,150.93 57.90,150.96" fill="#6060ff" fill-opacity="0.6" stroke="#3030ff" stroke-width="0.6" stroke-opacity="1.0" stroke-linejoin="round"/>
<polyline points="64.12,150.98 64.22,150.97 64.32,150.95 64.42,150.91 64.52,150.87 64.62,150.81 64.72,150.72 64.82,150.60 64.92,150.45 65.02,150.26 65.12,150.04 65.22,149.77 65.32,149.47 65.42,149.15 65.52,148.82 65.62,148.49 65.72,148.19 65.82,147.94 65.92,147.75 66.02,147.63 66.12,147.60 66.22,147.66 66.32,147.80 66.42,148.01 66.52,148.29 66.62,148.60 66.72,148.92 66.82,149.25 66.92,149.57 67.02,149.86 67.12,150.11 67.22,150.33 67.32,150.50 67.42,150.64 67.52,150.75 67.62,150.83 67.72,150.89 67.82,150.93 67.92,150.95 68.02,150.97" fill="#ffe0e0" fill-opacity="0.5" stroke="#f08080" stroke-width="0.5" stroke-opacity="1.0" stroke-linejoin="round"/>
<polyline points="64.50,150.99 64.60,150.97 64.70,150.95 64.80,150.91 64.90,150.86 65.00,150.78 65.10,150.66 65.20,150.51 65.30,150.30 65.40,150.06 65.50,149.78 65.60,149.48 65.70,149.18 65.80,148.91 65.90,148.69 66.00,148.55 66.10,148.50 66.20,148.55 66.30,148.69 66.40,148.91 66.50,149.18 66.60,149.48 66.70,149.78 66.80,150.06 66.90,150.30 67.00,150.51 67.10,150.66 67.20,150.78 67.30,150.86 67.40,150.91 67.50,150.95 67.60,150.97 67.70,150.99" fill="#6060ff" fill-opacity="0.5" stroke="#3030ff" stroke-width="0.5" stroke-opacity="1.0" stroke-linejoin="round"/>
<polyline points="78.78,151.00 78.88,150.99 78.98,150.99 79.08,150.99 79.18,150.99 79.28,150.98 79.38,150.98 79.48,150.97 79.58,150.96 79.68,150.95 79.78,150.94 79.88,150.93 79.98,150.91 80.08,150.90 80.18,150.88 80.28,150.85 80.38,150.83 80.48,150.80 80.58,150.76 80.68,150.73 80.78,150.69 80.88,150.65 80.98,150.61 81.08,150.57 81.18,150.52 81.28,150.48 81.38,150.44 81.48,150.39 81.58,150.35 81.68,150.32 81.78,150.28 81.88,150.26 81.98,150.23 82.08,150.22 82.18,150.20 82.28,150.20 82.38,150.20 82.48,150.21 82.58,150.23 82.68,150.25 82.78,150.27 82.88,150.30 82.98,150.34 83.08,150.38 83.18,150.42 83.28,150.46 83.38,150.51 83.48,150.55 83.58,150.59 83.68,150.64 83.78,150.68 83.88,150.71 83.98,150.75 84.08,150.78 84.18,150.81 84.28,150.84 84.38,150.87 84.48,150.89 84.58,150.91 84.68,150.92 84.78,150.94 84.88,150.95 84.98,150.96 85.08,150.97 85.18,150.97 85.28,150.98 85.38,150.98 85.48,150.99 85.58,150.99 85.68,150.99 85.78,150.99" fill="#e020c0" fill-opacity="0.5" stroke="#e020c0" stroke-width="0.5" stroke-opacity="1.0" stroke-linejoin="round"/>
<polyline points="92.20,151.00 92.30,151.00 92.40,151.00 92.50,150.99 92.60,150.99 92.70,150.99 92.80,150.99 92.90,150.99 93.00,150.99 93.10,150.99 93.20,150.99 93.30,150.99 93.40,150.99 93.50,150.99 93.60,150.99 93.70,150.99 93.80,150.99 93.90,150.99 94.00,150.98 94.10,150.98 94.20,150.98 94.30,150.98 94.40,150.98 94.50,150.98 94.60,150.98 94.70,150.97 94.80,150.97 94.90,150.97 95.00,150.97 95.10,150.97 95.20,150.97 95.30,150.96 95.40,150.96 95.50,150.96 95.60,150.96 95.70,150.95 95.80,150.95 95.90,150.95 96.00,150.94 96.10,150.94 96.20,150.94 96.30,150.93 96.40,150.93 96.50,150.93 96.60,150.92 96.70,150.92 96.80,150.91 96.90,150.91 97.00,150.91 97.10,150.90 97.20,150.90 97.30,150.89 97.40,150.88 97.50,150.88 97.60,150.87 97.70,150.87 97.80,150.86 97.90,150.86 98.00,150.85 98.10,150.84 98.20,150.83 98.30,150.83 98.40,150.82 98.50,150.81 98.60,150.81 98.70,150.80 98.80,150.79 98.90,150.78 99.00,150.77 99.10,150.76 99.20,150.76 99.30,150.75 99.40,150.74 99.50,150.73 99.60,150.72 99.70,150.71 99.80,150.70 99.90,150.69 100.00,150.68 100.10,150.67 100.20,150.66 100.30,150.65 100.40,150.64 100.50,150.63 100.60,150.62 100.70,150.61 100.80,150.60 100.90,150.59 101.00,150.58 101.10,150.56 101.20,150.55 101.30,150.54 101.40,150.53 101.50,150.52 101.60,150.51 101.70,150.50 101.80,150.49 101.90,150.48 102.00,150.47 102.10,150.46 102.20,150.45 102.30,150.44 102.40,150.43 102.50,150.42 102.60,150.42 102.70,150.41 102.80,150.40 102.90,150.39 103.00,150.38 103.10,150.37 103.20,150.37 103.30,150.36 103.40,150.35 103.50,150.35 103.60,150.34 103.70,150.34 103.80,150.33 103.90,150.33 104.00,150.32 104.10,150.32 104.20,150.31 104.30,150.31 104.40,150.31 104.50,150.31 104.60,150.30 104.70,150.30 104.80,150.30 104.90,150.30 105.00,150.30 105.10,150.30 105.20,150.30 105.30,150.30 105.40,150.30 105.50,150.31 105.60,150.31 105.70,150.31 105.80,150.31 105.90,150.32 106.00,150.32 106.10,150.33 106.20,150.33 106.30,150.34 106.40,150.34 106.50,150.35 106.60,150.35 106.70,150.36 106.80,150.37 106.90,150.37 107.00,150.38 107.10,150.39 107.20,150.40 107.30,150.41 107.40,150.42 107.50,150.42 107.60,150.43 107.70,150.44 107.80,150.45 107.90,150.46 108.00,150.47 108.10,150.48 108.20,150.49 108.30,150.50 108.40,150.51 108.50,150.52 108.60,150.53 108.70,150.54 108.80,150.55 108.90,150.56 109.00,150.58 109.10,150.59 109.20,150.60 109.30,150.61 109.40,150.62 109.50,150.63 109.60,150.64 109.70,150.65 109.80,150.66 109.90,150.67 110.00,150.68 110.10,150.69 110.20,150.70 110.30,150.71 110.40,150.72 110.50,150.73 110.60,150.74 110.70,150.75 110.80,150.76 110.90,150.76 111.00,150.77 111.10,150.78 111.20,150.79 111.30,150.80 111.40,150.81 111.50,150.81 111.60,150.82 111.70,150.83 111.80,150.83 111.90,150.84 112.00,150.85 112.10,150.86 112.20,150.86 112.30,150.87 112.40,150.87 112.50,150.88 112.60,150.88 112.70,150.89 112.80,150.90 112.90,150.90 113.00,150.91 113.10,150.91 113.20,150.91 113.30,150.92 113.40,150.92 113.50,150.93 113.60,150.93 113.70,150.93 113.80,150.94 113.90,150.94 114.00,150.94 114.10,150.95 114.20,150.95 114.30,150.95 114.40,150.96 114.50,150.96 114.60,150.96 114.70,150.96 114.80,150.97 114.90,150.97 115.00,150.97 115.10,150.97 115.20,150.97 115.30,150.97 115.40,150.98 115.50,150.98 115.60,150.98 115.70,150.98 115.80,150.98 115.90,150.98 116.00,150.98 116.10,150.99 116.20,150.99 116.30,150.99 116.40,150.99 116.50,150.99 116.60,150.99 116.70,150.99 116.80,150.99 116.90,150.99 117.00,150.99 117.10,150.99 117.20,150.99 117.30,150.99 117.40,150.99 117.50,150.99 117.60,151.00 117.70,151.00 117.80,151.00" fill="none" fill-opacity="1.0" stroke="#8080a0" stroke-width="0.4" stroke-opacity="1.0" stroke-linejoin="round"/>
<polyline points="162.54,150.99 162.64,150.99 162.74,150.99 162.84,150.99 162.94,150.99 163.04,150.99 163.14,150.98 163.24,150.98 163.34,150.98 163.44,150.98 163.54,150.98 163.64,150.97 163.74,150.97 163.84,150.97 163.94,150.96 164.04,150.96 164.14,150.96 164.24,150.95 164.34,150.95 164.44,150.94 164.54,150.94 164.64,150.93 164.74,150.92 164.84,150.92 164.94,150.91 165.04,150.90 165.14,150.89 165.24,150.88 165.34,150.88 165.44,150.87 165.54,150.85 165.64,150.84 165.74,150.83 165.84,150.82 165.94,150.81 166.04,150.79 166.14,150.78 166.24,150.76 166.34,150.74 166.44,150.73 166.54,150.71 166.64,150.69 166.74,150.67 166.84,150.65 166.94,150.63 167.04,150.61 167.14,150.58 167.24,150.56 167.34,150.54 167.44,150.51 167.54,150.49 167.64,150.46 167.74,150.43 167.84,150.40 167.94,150.38 168.04,150.35 168.14,150.32 168.24,150.29 168.34,150.26 168.44,150.23 168.54,150.20 168.64,150.17 168.74,150.14 168.84,150.11 168.94,150.08 169.04,150.05 169.14,150.02 169.24,149.99 169.34,149.96 169.44,149.93 169.54,149.90 169.64,149.88 169.74,149.85 169.84,149.83 169.94,149.80 170.04,149.78 170.14,149.76 170.24,149.73 170.34,149.72 170.44,149.70 170.54,149.68 170.64,149.66 170.74,149.65 170.84,149.64 170.94,149.63 171.04,149.62 171.14,149.61 171.24,149.61 171.34,149.60 171.44,149.60 171.54,149.60 171.64,149.60 171.74,149.61 171.84,149.61 171.94,149.62 172.04,149.63 172.14,149.64 172.24,149.65 172.34,149.66 172.44,149.68 172.54,149.69 172.64,149.71 172.74,149.73 172.84,149.75 172.94,149.77 173.04,149.80 173.14,149.82 173.24,149.85 173.34,149.87 173.44,149.90 173.54,149.93 173.64,149.95 173.74,149.98 173.84,150.01 173.94,150.04 174.04,150.07 174.14,150.10 174.24,150.13 174.34,150.16 174.44,150.19 174.54,150.22 174.64,150.25 174.74,150.28 174.84,150.31 174.94,150.34 175.04,150.37 175.14,150.40 175.24,150.43 175.34,150.45 175.44,150.48 175.54,150.51 175.64,150.53 175.74,150.56 175.84,150.58 175.94,150.60 176.04,150.62 176.14,150.65 176.24,150.67 176.34,150.69 176.44,150.70 176.54,150.72 176.64,150.74 176.74,150.76 176.84,150.77 176.94,150.79 177.04,150.80 177.14,150.82 177.24,150.83 177.34,150.84 177.44,150.85 177.54,150.86 177.64,150.87 177.74,150.88 177.84,150.89 177.94,150.90 178.04,150.91 178.14,150.92 178.24,150.92 178.34,150.93 178.44,150.94 178.54,150.94 178.64,150.95 178.74,150.95 178.84,150.95 178.94,150.96 179.04,150.96 179.14,150.97 179.24,150.97 179.34,150.97 179.44,150.97 179.54,150.98 179.64,150.98 179.74,150.98 179.84,150.98 179.94,150.99 180.04,150.99 180.14,150.99 180.24,150.99 180.34,150.99 180.44,150.99" fill="#ffc0e8" fill-opacity="0.4" stroke="#f070c8" stroke-width="0.5" stroke-opacity="1.0" stroke-linejoin="round"/>
<polyline points="175.66,150.65 175.76,150.59 175.86,150.52 175.96,150.44 176.06,150.34 176.16,150.23 176.26,150.11 176.36,149.97 176.46,149.81 176.56,149.63 176.66,149.42 176.76,149.19 176.86,148.93 176.96,148.64 177.06,148.32 177.16,147.96 177.26,147.56 177.36,147.12 177.46,146.64 177.56,146.10 177.66,145.52 177.76,144.88 177.86,144.18 177.96,143.43 178.06,142.61 178.16,141.73 178.26,140.79 178.36,139.78 178.46,138.70 178.56,137.55 178.66,136.34 178.76,135.06 178.86,133.71 178.96,132.29 179.06,130.81 179.16,129.28 179.26,127.68 179.36,126.04 179.46,124.35 179.56,122.62 179.66,120.86 179.76,119.07 179.86,117.27 179.96,115.46 180.06,113.65 180.16,111.85 180.26,110.07 180.36,108.32 180.46,106.61 180.56,104.96 180.66,103.37 180.76,101.86 180.86,100.43 180.96,99.09 181.06,97.87 181.16,96.75 181.26,95.76 181.36,94.89 181.46,94.17 181.56,93.58 181.66,93.14 181.76,92.85 181.86,92.71 181.96,92.73 182.06,92.90 182.16,93.22 182.26,93.69 182.36,94.30 182.46,95.06 182.56,95.95 182.66,96.96 182.76,98.10 182.86,99.35 182.96,100.71 183.06,102.15 183.16,103.68 183.26,105.29 183.36,106.95 183.46,108.67 183.56,110.42 183.66,112.21 183.76,114.01 183.86,115.82 183.96,117.63 184.06,119.43 184.16,121.22 184.26,122.97 184.36,124.69 184.46,126.37 184.56,128.01 184.66,129.59 184.76,131.11 184.86,132.58 184.96,133.98 185.06,135.32 185.16,136.59 185.26,137.79 185.36,138.92 185.46,139.99 185.56,140.98 185.66,141.92 185.76,142.78 185.86,143.58 185.96,144.33 186.06,145.01 186.16,145.64 186.26,146.21 186.36,146.74 186.46,147.21 186.56,147.65 186.66,148.04 186.76,148.39 186.86,148.71 186.96,148.99 187.06,149.24 187.16,149.47 187.26,149.67 187.36,149.84 187.46,150.00 187.56,150.14 187.66,150.26 187.76,150.36 187.86,150.45 187.96,150.53 188.06,150.60" fill="#ffffff" fill-opacity="0.6" stroke="#f29a9a" stroke-width="0.5" stroke-opacity="1.0" stroke-linejoin="round"/>
<polyline points="177.04,150.77 177.14,150.71 177.24,150.63 177.34,150.54 177.44,150.42 177.54,150.28 177.64,150.11 177.74,149.90 177.84,149.65 177.94,149.36 178.04,149.02 178.14,148.62 178.24,148.16 178.34,147.62 178.44,147.01 178.54,146.32 178.64,145.53 178.74,144.66 178.84,143.69 178.94,142.61 179.04,141.44 179.14,140.17 179.24,138.81 179.34,137.35 179.44,135.80 179.54,134.18 179.64,132.50 179.74,130.77 179.84,129.01 179.94,127.24 180.04,125.48 180.14,123.75 180.24,122.07 180.34,120.47 180.44,118.97 180.54,117.59 180.64,116.37 180.74,115.31 180.84,114.43 180.94,113.75 181.04,113.29 181.14,113.04 181.24,113.02 181.34,113.22 181.44,113.64 181.54,114.28 181.64,115.12 181.74,116.14 181.84,117.34 181.94,118.68 182.04,120.16 182.14,121.74 182.24,123.41 182.34,125.13 182.44,126.89 182.54,128.66 182.64,130.42 182.74,132.16 182.84,133.85 182.94,135.48 183.04,137.04 183.14,138.52 183.24,139.91 183.34,141.20 183.44,142.39 183.54,143.48 183.64,144.47 183.74,145.37 183.84,146.17 183.94,146.88 184.04,147.51 184.14,148.05 184.24,148.53 184.34,148.94 184.44,149.30 184.54,149.60 184.64,149.85 184.74,150.07 184.84,150.25 184.94,150.39 185.04,150.52 185.14,150.62 185.24,150.70 185.34,150.76" fill="none" fill-opacity="1.0" stroke="#f4b0b0" stroke-width="0.4" stroke-opacity="1.0" stroke-linejoin="round"/>
<polyline points="178.26,150.82 178.36,150.75 178.46,150.66 178.56,150.54 178.66,150.38 178.76,150.17 178.86,149.90 178.96,149.57 179.06,149.16 179.16,148.65 179.26,148.04 179.36,147.31 179.46,146.45 179.56,145.45 179.66,144.31 179.76,143.02 179.86,141.58 179.96,140.02 180.06,138.33 180.16,136.54 180.26,134.69 180.36,132.80 180.46,130.91 180.56,129.07 180.66,127.33 180.76,125.73 180.86,124.32 180.96,123.14 181.06,122.23 181.16,121.62 181.26,121.33 181.36,121.36 181.46,121.72 181.56,122.39 181.66,123.36 181.76,124.59 181.86,126.04 181.96,127.67 182.06,129.43 182.16,131.28 182.26,133.18 182.36,135.06 182.46,136.91 182.56,138.68 182.66,140.34 182.76,141.88 182.86,143.29 182.96,144.55 183.06,145.66 183.16,146.63 183.26,147.46 183.36,148.17 183.46,148.76 183.56,149.25 183.66,149.64 183.76,149.96 183.86,150.21 183.96,150.41 184.06,150.56 184.16,150.68 184.26,150.77" fill="#f6f6ff" fill-opacity="0.9" stroke="#3838ff" stroke-width="0.55" stroke-opacity="1.0" stroke-linejoin="round"/>
<polyline points="177.30,150.94 177.40,150.89 177.50,150.80 177.60,150.66 177.70,150.44 177.80,150.11 177.90,149.65 178.00,149.02 178.10,148.22 178.20,147.25 178.30,146.13 178.40,144.93 178.50,143.74 178.60,142.65 178.70,141.77 178.80,141.20 178.90,141.00 179.00,141.20 179.10,141.77 179.20,142.65 179.30,143.74 179.40,144.93 179.50,146.13 179.60,147.25 179.70,148.22 179.80,149.02 179.90,149.65 180.00,150.11 180.10,150.44 180.20,150.66 180.30,150.80 180.40,150.89 180.50,150.94" fill="#8080ff" fill-opacity="0.3" stroke="#4040ff" stroke-width="0.6" stroke-opacity="1.0" stroke-linejoin="round"/>
<polyline points="182.06,150.93 182.16,150.86 182.26,150.74 182.36,150.54 182.46,150.20 182.56,149.70 182.66,148.99 182.76,148.02 182.86,146.82 182.96,145.40 183.06,143.87 183.16,142.36 183.26,141.02 183.36,140.04 183.46,139.55 183.56,139.60 183.66,140.20 183.76,141.27 183.86,142.65 183.96,144.18 184.06,145.70 184.16,147.08 184.26,148.24 184.36,149.15 184.46,149.82 184.56,150.28 184.66,150.59 184.76,150.77 184.86,150.88" fill="#ff90e0" fill-opacity="0.4" stroke="#ff30d0" stroke-width="0.5" stroke-opacity="1.0" stroke-linejoin="round"/>
<polyline points="184.76,150.87 184.86,150.79 184.96,150.68 185.06,150.52 185.16,150.30 185.26,149.99 185.36,149.57 185.46,149.03 185.56,148.32 185.66,147.45 185.76,146.38 185.86,145.11 185.96,143.64 186.06,141.99 186.16,140.19 186.26,138.30 186.36,136.38 186.46,134.51 186.56,132.78 186.66,131.27 186.76,130.07 186.86,129.24 186.96,128.84 187.06,128.88 187.16,129.37 187.26,130.28 187.36,131.55 187.46,133.11 187.56,134.88 187.66,136.77 187.76,138.69 187.86,140.56 187.96,142.33 188.06,143.95 188.16,145.38 188.26,146.61 188.36,147.64 188.46,148.48 188.56,149.15 188.66,149.67 188.76,150.06 188.86,150.35 188.96,150.56 189.06,150.71 189.16,150.81" fill="#ffe8e8" fill-opacity="0.6" stroke="#f29090" stroke-width="0.55" stroke-opacity="1.0" stroke-linejoin="round"/>
<polyline points="185.40,150.91 185.50,150.84 185.60,150.71 185.70,150.51 185.80,150.19 185.90,149.71 186.00,149.04 186.10,148.13 186.20,146.97 186.30,145.56 186.40,143.94 186.50,142.21 186.60,140.47 186.70,138.89 186.80,137.61 186.90,136.79 187.00,136.50 187.10,136.79 187.20,137.61 187.30,138.89 187.40,140.47 187.50,142.21 187.60,143.94 187.70,145.56 187.80,146.97 187.90,148.13 188.00,149.04 188.10,149.71 188.20,150.19 188.30,150.51 188.40,150.71 188.50,150.84 188.60,150.91" fill="#9070e8" fill-opacity="0.7" stroke="#6048e0" stroke-width="0.6" stroke-opacity="1.0" stroke-linejoin="round"/>
<polyline points="182.96,150.96 183.06,150.93 183.16,150.87 183.26,150.76 183.36,150.58 183.46,150.32 183.56,149.95 183.66,149.45 183.76,148.82 183.86,148.08 183.96,147.28 184.06,146.49 184.16,145.80 184.26,145.28 184.36,145.02 184.46,145.05 184.56,145.37 184.66,145.92 184.76,146.64 184.86,147.44 184.96,148.23 185.06,148.95 185.16,149.56 185.26,150.03 185.36,150.38 185.46,150.63 185.56,150.78 185.66,150.88 185.76,150.94" fill="#80f0f0" fill-opacity="0.5" stroke="#30d0e0" stroke-width="0.5" stroke-opacity="1.0" stroke-linejoin="round"/>
<polyline points="189.34,150.99 189.44,150.99 189.54,150.99 189.64,150.98 189.74,150.98 189.84,150.97 189.94,150.97 190.04,150.96 190.14,150.95 190.24,150.94 190.34,150.93 190.44,150.91 190.54,150.90 190.64,150.88 190.74,150.85 190.84,150.83 190.94,150.80 191.04,150.77 191.14,150.73 191.24,150.69 191.34,150.65 191.44,150.60 191.54,150.55 191.64,150.50 191.74,150.44 191.84,150.38 191.94,150.32 192.04,150.25 192.14,150.19 192.24,150.12 192.34,150.06 192.44,150.00 192.54,149.93 192.64,149.88 192.74,149.82 192.84,149.77 192.94,149.72 193.04,149.68 193.14,149.65 193.24,149.63 193.34,149.61 193.44,149.60 193.54,149.60 193.64,149.61 193.74,149.62 193.84,149.65 193.94,149.68 194.04,149.72 194.14,149.76 194.24,149.81 194.34,149.86 194.44,149.92 194.54,149.98 194.64,150.05 194.74,150.11 194.84,150.18 194.94,150.24 195.04,150.31 195.14,150.37 195.24,150.43 195.34,150.49 195.44,150.54 195.54,150.59 195.64,150.64 195.74,150.68 195.84,150.72 195.94,150.76 196.04,150.79 196.14,150.82 196.24,150.85 196.34,150.87 196.44,150.89 196.54,150.91 196.64,150.92 196.74,150.94 196.84,150.95 196.94,150.96 197.04,150.97 197.14,150.97 197.24,150.98 197.34,150.98 197.44,150.99 197.54,150.99 197.64,150.99" fill="#ff60d0" fill-opacity="0.5" stroke="#f050c0" stroke-width="0.5" stroke-opacity="1.0" stroke-linejoin="round"/>
<polyline points="188.02,150.98 188.12,150.96 188.22,150.92 188.32,150.85 188.42,150.73 188.52,150.55 188.62,150.29 188.72,149.95 188.82,149.54 188.92,149.09 189.02,148.65 189.12,148.29 189.22,148.06 189.32,148.00 189.42,148.13 189.52,148.42 189.62,148.82 189.72,149.27 189.82,149.71 189.92,150.10 190.02,150.41 190.12,150.63 190.22,150.79 190.32,150.88 190.42,150.94 190.52,150.97" fill="none" fill-opacity="1.0" stroke="#30d0e0" stroke-width="0.5" stroke-opacity="1.0" stroke-linejoin="round"/>
<polyline points="198.22,150.99 198.32,150.97 198.42,150.93 198.52,150.88 198.62,150.78 198.72,150.63 198.82,150.41 198.92,150.13 199.02,149.78 199.12,149.41 199.22,149.04 199.32,148.74 199.42,148.55 199.52,148.50 199.62,148.61 199.72,148.85 199.82,149.18 199.92,149.56 200.02,149.93 200.12,150.25 200.22,150.51 200.32,150.69 200.42,150.82 200.52,150.90 200.62,150.95 200.72,150.98" fill="none" fill-opacity="1.0" stroke="#30d0e0" stroke-width="0.5" stroke-opacity="1.0" stroke-linejoin="round"/>
<polyline points="292.20,150.97 292.30,150.95 292.40,150.93 292.50,150.89 292.60,150.84 292.70,150.77 292.80,150.68 292.90,150.57 293.00,150.41 293.10,150.22 293.20,149.99 293.30,149.72 293.40,149.40 293.50,149.03 293.60,148.64 293.70,148.21 293.80,147.78 293.90,147.34 294.00,146.93 294.10,146.56 294.20,146.24 294.30,146.00 294.40,145.85 294.50,145.80 294.60,145.85 294.70,145.99 294.80,146.22 294.90,146.53 295.00,146.90 295.10,147.31 295.20,147.74 295.30,148.18 295.40,148.60 295.50,149.00 295.60,149.37 295.70,149.69 295.80,149.97 295.90,150.21 296.00,150.40 296.10,150.55 296.20,150.68 296.30,150.77 296.40,150.84 296.50,150.89 296.60,150.92 296.70,150.95 296.80,150.97" fill="none" fill-opacity="1.0" stroke="#ff30c0" stroke-width="0.6" stroke-opacity="1.0" stroke-linejoin="round"/>
<polyline points="303.76,150.95 303.86,150.90 303.96,150.82 304.06,150.67 304.16,150.44 304.26,150.09 304.36,149.58 304.46,148.90 304.56,148.05 304.66,147.06 304.76,145.98 304.86,144.91 304.96,143.97 305.06,143.28 305.16,142.93 305.26,142.97 305.36,143.40 305.46,144.15 305.56,145.12 305.66,146.20 305.76,147.27 305.86,148.24 305.96,149.05 306.06,149.70 306.16,150.17 306.26,150.49 306.36,150.71 306.46,150.84 306.56,150.92" fill="#ff50d0" fill-opacity="0.8" stroke="#ff30c0" stroke-width="0.6" stroke-opacity="1.0" stroke-linejoin="round"/>
<polyline points="333.38,150.89 333.48,150.82 333.58,150.70 333.68,150.53 333.78,150.27 333.88,149.91 333.98,149.40 334.08,148.72 334.18,147.85 334.28,146.76 334.38,145.44 334.48,143.93 334.58,142.24 334.68,140.45 334.78,138.64 334.88,136.91 334.98,135.39 335.08,134.17 335.18,133.36 335.28,133.01 335.38,133.16 335.48,133.79 335.58,134.86 335.68,136.27 335.78,137.93 335.88,139.72 335.98,141.53 336.08,143.27 336.18,144.86 336.28,146.26 336.38,147.44 336.48,148.40 336.58,149.15 336.68,149.72 336.78,150.14 336.88,150.44 336.98,150.64 337.08,150.78 337.18,150.87" fill="#ffeeee" fill-opacity="0.6" stroke="#f4a0a0" stroke-width="0.6" stroke-opacity="1.0" stroke-linejoin="round"/>
<polyline points="333.40,150.93 333.50,150.87 333.60,150.77 333.70,150.61 333.80,150.36 333.90,149.99 334.00,149.46 334.10,148.74 334.20,147.83 334.30,146.72 334.40,145.45 334.50,144.09 334.60,142.72 334.70,141.48 334.80,140.48 334.90,139.83 335.00,139.60 335.10,139.83 335.20,140.48 335.30,141.48 335.40,142.72 335.50,144.09 335.60,145.45 335.70,146.72 335.80,147.83 335.90,148.74 336.00,149.46 336.10,149.99 336.20,150.36 336.30,150.61 336.40,150.77 336.50,150.87 336.60,150.93" fill="#a0a0ff" fill-opacity="0.5" stroke="#3030f0" stroke-width="0.6" stroke-opacity="1.0" stroke-linejoin="round"/>
</g>
<line x1="74.3" y1="95.0" x2="74.3" y2="123.5" stroke="#777" stroke-width="0.5"/>
<line x1="74.3" y1="123.5" x2="166.6" y2="123.5" stroke="#666" stroke-width="0.55"/>
<line x1="74.3" y1="123.5" x2="74.3" y2="124.7" stroke="#777" stroke-width="0.4"/>
<line x1="83.53" y1="123.5" x2="83.53" y2="124.2" stroke="#777" stroke-width="0.4"/>
<line x1="92.75999999999999" y1="123.5" x2="92.75999999999999" y2="124.2" stroke="#777" stroke-width="0.4"/>
<line x1="101.99" y1="123.5" x2="101.99" y2="124.2" stroke="#777" stroke-width="0.4"/>
<line x1="111.22" y1="123.5" x2="111.22" y2="124.2" stroke="#777" stroke-width="0.4"/>
<line x1="120.44999999999999" y1="123.5" x2="120.44999999999999" y2="124.7" stroke="#777" stroke-width="0.4"/>
<line x1="129.68" y1="123.5" x2="129.68" y2="124.2" stroke="#777" stroke-width="0.4"/>
<line x1="138.91" y1="123.5" x2="138.91" y2="124.2" stroke="#777" stroke-width="0.4"/>
<line x1="148.14" y1="123.5" x2="148.14" y2="124.2" stroke="#777" stroke-width="0.4"/>
<line x1="157.37" y1="123.5" x2="157.37" y2="124.2" stroke="#777" stroke-width="0.4"/>
<line x1="166.6" y1="123.5" x2="166.6" y2="124.7" stroke="#777" stroke-width="0.4"/>
<line x1="73.1" y1="95.0" x2="74.3" y2="95.0" stroke="#777" stroke-width="0.4"/>
<line x1="73.1" y1="120.8" x2="74.3" y2="120.8" stroke="#777" stroke-width="0.4"/>
<text x="72.7" y="96.2" text-anchor="end" font-size="3.4" font-family="Liberation Sans, sans-serif" fill="#111" stroke="#111" stroke-width="0.1">0.01</text>
<text x="72.7" y="121.9" text-anchor="end" font-size="3.4" font-family="Liberation Sans, sans-serif" fill="#111" stroke="#111" stroke-width="0.1">0.00</text>
<text x="74.5" y="128.1" text-anchor="middle" font-size="3.4" font-family="Liberation Sans, sans-serif" fill="#111" stroke="#111" stroke-width="0.1">3600</text>
<text x="166.8" y="128.1" text-anchor="middle" font-size="3.4" font-family="Liberation Sans, sans-serif" fill="#111" stroke="#111" stroke-width="0.1">2600</text>
<polyline points="74.30,120.78 74.80,120.77 75.30,120.73 75.80,120.65 76.30,120.51 76.80,120.26 77.30,119.85 77.80,119.21 78.30,118.29 78.80,117.02 79.30,115.41 79.80,113.49 80.30,111.38 80.80,109.27 81.30,107.40 81.80,106.01 82.30,105.29 82.80,105.35 83.30,106.17 83.80,107.63 84.30,109.51 84.80,111.57 85.30,113.58 85.80,115.35 86.30,116.80 86.80,117.86 87.30,118.58 87.80,118.98 88.30,119.14 88.80,119.10 89.30,118.88 89.80,118.49 90.30,117.91 90.80,117.13 91.30,116.19 91.80,115.17 92.30,114.20 92.80,113.45 93.30,112.99 93.80,112.82 94.30,112.86 94.80,112.95 95.30,113.00 95.80,112.94 96.30,112.77 96.80,112.52 97.30,112.26 97.80,112.01 98.30,111.81 98.80,111.67 99.30,111.61 99.80,111.61 100.30,111.70 100.80,111.85 101.30,112.08 101.80,112.37 102.30,112.72 102.80,113.12 103.30,113.55 103.80,114.02 104.30,114.51 104.80,115.02 105.30,115.52 105.80,116.03 106.30,116.52 106.80,116.99 107.30,117.43 107.80,117.85 108.30,118.24 108.80,118.60 109.30,118.92 109.80,119.21 110.30,119.46 110.80,119.69 111.30,119.88 111.80,120.05 112.30,120.19 112.80,120.31 113.30,120.40 113.80,120.49 114.30,120.55 114.80,120.61 115.30,120.65 115.80,120.69 116.30,120.71 116.80,120.73 117.30,120.75 117.80,120.76 118.30,120.77 118.80,120.78 119.30,120.79 119.80,120.79 120.30,120.79 120.80,120.79 121.30,120.80 121.80,120.80 122.30,120.80 122.80,120.80 123.30,120.80 123.80,120.80 124.30,120.80 124.80,120.80" fill="none" fill-opacity="1" stroke="#dadada" stroke-width="0.45" stroke-linejoin="round"/>
<polyline points="74.30,120.80 74.80,120.80 75.30,120.79 75.80,120.78 76.30,120.75 76.80,120.68 77.30,120.55 77.80,120.32 78.30,119.92 78.80,119.28 79.30,118.35 79.80,117.12 80.30,115.64 80.80,114.04 81.30,112.54 81.80,111.37 82.30,110.74 82.80,110.78 83.30,111.48 83.80,112.68 84.30,114.16 84.80,115.68 85.30,117.05 85.80,118.13 86.30,118.90 86.80,119.38 87.30,119.63 87.80,119.71 88.30,119.67 88.80,119.56 89.30,119.40 89.80,119.21 90.30,118.99 90.80,118.76 91.30,118.50 91.80,118.23 92.30,117.94 92.80,117.64 93.30,117.33 93.80,117.01 94.30,116.68 94.80,116.36 95.30,116.03 95.80,115.72 96.30,115.41 96.80,115.12 97.30,114.85 97.80,114.60 98.30,114.38 98.80,114.19 99.30,114.04 99.80,113.92 100.30,113.84 100.80,113.80 101.30,113.81 101.80,113.85 102.30,113.94 102.80,114.06 103.30,114.22 103.80,114.42 104.30,114.65 104.80,114.90 105.30,115.18 105.80,115.47 106.30,115.78 106.80,116.10 107.30,116.42 107.80,116.75 108.30,117.07 108.80,117.39 109.30,117.70 109.80,118.00 110.30,118.28 110.80,118.55 111.30,118.81 111.80,119.04 112.30,119.26 112.80,119.45 113.30,119.63 113.80,119.79 114.30,119.94 114.80,120.06 115.30,120.18 115.80,120.28 116.30,120.36 116.80,120.44 117.30,120.50 117.80,120.55 118.30,120.60 118.80,120.64 119.30,120.67 119.80,120.69 120.30,120.71 120.80,120.73 121.30,120.75 121.80,120.76 122.30,120.77 122.80,120.77 123.30,120.78 123.80,120.79 124.30,120.79 124.80,120.79 125.30,120.79 125.80,120.80 126.30,120.80 126.80,120.80 127.30,120.80 127.80,120.80" fill="none" fill-opacity="1" stroke="#e2e2e2" stroke-width="0.45" stroke-linejoin="round"/>
<polyline points="74.30,120.80 74.80,120.80 75.30,120.80 75.80,120.80 76.30,120.80 76.80,120.80 77.30,120.79 77.80,120.79 78.30,120.79 78.80,120.79 79.30,120.78 79.80,120.77 80.30,120.76 80.80,120.75 81.30,120.73 81.80,120.71 82.30,120.68 82.80,120.64 83.30,120.59 83.80,120.53 84.30,120.46 84.80,120.37 85.30,120.27 85.80,120.14 86.30,119.99 86.80,119.82 87.30,119.62 87.80,119.40 88.30,119.15 88.80,118.87 89.30,118.56 89.80,118.23 90.30,117.88 90.80,117.51 91.30,117.13 91.80,116.74 92.30,116.35 92.80,115.96 93.30,115.60 93.80,115.26 94.30,114.94 94.80,114.67 95.30,114.45 95.80,114.28 96.30,114.16 96.80,114.10 97.30,114.11 97.80,114.18 98.30,114.31 98.80,114.49 99.30,114.72 99.80,115.00 100.30,115.32 100.80,115.67 101.30,116.04 101.80,116.42 102.30,116.81 102.80,117.20 103.30,117.58 103.80,117.95 104.30,118.30 104.80,118.62 105.30,118.93 105.80,119.20 106.30,119.45 106.80,119.67 107.30,119.86 107.80,120.02 108.30,120.17 108.80,120.29 109.30,120.39 109.80,120.48 110.30,120.55 110.80,120.60 111.30,120.65 111.80,120.68 112.30,120.71 112.80,120.73 113.30,120.75 113.80,120.76 114.30,120.77 114.80,120.78 115.30,120.79 115.80,120.79 116.30,120.79 116.80,120.80 117.30,120.80 117.80,120.80" fill="none" fill-opacity="1" stroke="#60dde6" stroke-width="0.55" stroke-linejoin="round"/>
<polyline points="74.30,120.80 74.80,120.80 75.30,120.80 75.80,120.80 76.30,120.80 76.80,120.80 77.30,120.80 77.80,120.80 78.30,120.80 78.80,120.80 79.30,120.80 79.80,120.80 80.30,120.80 80.80,120.80 81.30,120.80 81.80,120.80 82.30,120.80 82.80,120.79 83.30,120.79 83.80,120.79 84.30,120.79 84.80,120.78 85.30,120.78 85.80,120.77 86.30,120.76 86.80,120.75 87.30,120.73 87.80,120.72 88.30,120.70 88.80,120.67 89.30,120.64 89.80,120.60 90.30,120.56 90.80,120.50 91.30,120.44 91.80,120.37 92.30,120.29 92.80,120.20 93.30,120.10 93.80,119.98 94.30,119.86 94.80,119.72 95.30,119.57 95.80,119.40 96.30,119.23 96.80,119.04 97.30,118.85 97.80,118.66 98.30,118.45 98.80,118.25 99.30,118.05 99.80,117.86 100.30,117.67 100.80,117.49 101.30,117.33 101.80,117.19 102.30,117.06 102.80,116.96 103.30,116.88 103.80,116.83 104.30,116.80 104.80,116.80 105.30,116.84 105.80,116.89 106.30,116.98 106.80,117.08 107.30,117.21 107.80,117.36 108.30,117.53 108.80,117.71 109.30,117.90 109.80,118.09 110.30,118.29 110.80,118.50 111.30,118.70 111.80,118.89 112.30,119.08 112.80,119.26 113.30,119.44 113.80,119.60 114.30,119.75 114.80,119.88 115.30,120.01 115.80,120.12 116.30,120.22 116.80,120.31 117.30,120.39 117.80,120.46 118.30,120.52 118.80,120.57 119.30,120.61 119.80,120.65 120.30,120.68 120.80,120.70 121.30,120.72 121.80,120.74 122.30,120.75 122.80,120.76 123.30,120.77 123.80,120.78 124.30,120.78 124.80,120.79 125.30,120.79 125.80,120.79" fill="none" fill-opacity="1" stroke="#60dde6" stroke-width="0.55" stroke-linejoin="round"/>
<polyline points="74.30,120.80 74.80,120.80 75.30,120.80 75.80,120.80 76.30,120.80 76.80,120.80 77.30,120.80 77.80,120.79 78.30,120.79 78.80,120.78 79.30,120.77 79.80,120.76 80.30,120.73 80.80,120.70 81.30,120.65 81.80,120.59 82.30,120.50 82.80,120.40 83.30,120.27 83.80,120.12 84.30,119.96 84.80,119.78 85.30,119.60 85.80,119.42 86.30,119.27 86.80,119.14 87.30,119.05 87.80,119.00 88.30,119.01 88.80,119.06 89.30,119.16 89.80,119.30 90.30,119.46 90.80,119.64 91.30,119.82 91.80,119.99 92.30,120.16 92.80,120.30 93.30,120.42 93.80,120.52 94.30,120.60 94.80,120.66 95.30,120.71 95.80,120.74 96.30,120.76 96.80,120.78 97.30,120.79 97.80,120.79 98.30,120.80 98.80,120.80 99.30,120.80 99.80,120.80" fill="none" fill-opacity="1" stroke="#90e8ee" stroke-width="0.45" stroke-linejoin="round"/>
<polyline points="76.00,120.80 76.50,120.79 77.00,120.78 77.50,120.75 78.00,120.66 78.50,120.45 79.00,120.03 79.50,119.29 80.00,118.13 80.50,116.54 81.00,114.66 81.50,112.84 82.00,111.50 82.50,111.00 83.00,111.50 83.50,112.84 84.00,114.66 84.50,116.54 85.00,118.13 85.50,119.29 86.00,120.03 86.50,120.45 87.00,120.66 87.50,120.75 88.00,120.78 88.50,120.79 89.00,120.80 89.50,120.80 90.00,120.80" fill="none" fill-opacity="1" stroke="#f050d8" stroke-width="0.5" stroke-linejoin="round"/>
<polyline points="77.00,120.80 77.50,120.80 78.00,120.80 78.50,120.80 79.00,120.80 79.50,120.77 80.00,120.68 80.50,120.37 81.00,119.61 81.50,118.22 82.00,116.44 82.50,115.06 83.00,114.92 83.50,116.10 84.00,117.88 84.50,119.39 85.00,120.27 85.50,120.64 86.00,120.76 86.50,120.79 87.00,120.80 87.50,120.80 88.00,120.80 88.50,120.80 89.00,120.80" fill="none" fill-opacity="1" stroke="#f050d8" stroke-width="0.45" stroke-linejoin="round"/>
<polyline points="88.00,120.80 88.50,120.80 89.00,120.80 89.50,120.80 90.00,120.79 90.50,120.75 91.00,120.60 91.50,120.20 92.00,119.51 92.50,118.74 93.00,118.40 93.50,118.74 94.00,119.51 94.50,120.20 95.00,120.60 95.50,120.75 96.00,120.79 96.50,120.80 97.00,120.80 97.50,120.80 98.00,120.80" fill="none" fill-opacity="1" stroke="#f050d8" stroke-width="0.45" stroke-linejoin="round"/>
<polyline points="80.00,120.80 80.50,120.80 81.00,120.80 81.50,120.80 82.00,120.78 82.50,120.75 83.00,120.66 83.50,120.50 84.00,120.25 84.50,119.95 85.00,119.70 85.50,119.60 86.00,119.70 86.50,119.95 87.00,120.25 87.50,120.50 88.00,120.66 88.50,120.75 89.00,120.78 89.50,120.80 90.00,120.80 90.50,120.80 91.00,120.80 91.50,120.80 92.00,120.80" fill="none" fill-opacity="1" stroke="#6060ff" stroke-width="0.45" stroke-linejoin="round"/>
<polyline points="74.30,120.62 74.90,120.83 75.50,120.71 76.10,120.87 76.70,120.89 77.30,120.50 77.90,120.46 78.50,121.04 79.10,120.63 79.70,120.61 80.30,121.15 80.90,120.78 81.50,121.04 82.10,120.78 82.70,120.90 83.30,120.56 83.90,120.89 84.50,121.06 85.10,120.82 85.70,120.97 86.30,120.92 86.90,120.49 87.50,120.98 88.10,120.86 88.70,120.66 89.30,120.47 89.90,121.06 90.50,120.78 91.10,120.95 91.70,121.07 92.30,120.95 92.90,121.09 93.50,120.73 94.10,121.01 94.70,120.76 95.30,121.10 95.90,121.07 96.50,120.52 97.10,120.55 97.70,120.60 98.30,121.13 98.90,120.76 99.50,120.89 100.10,120.66 100.70,120.81 101.30,120.72 101.90,120.70 102.50,120.86 103.10,120.86 103.70,121.08 104.30,120.93 104.90,121.10 105.50,121.05 106.10,121.14 106.70,120.92 107.30,120.56 107.90,121.05 108.50,121.13 109.10,121.08 109.70,120.85 110.30,120.95 110.90,120.60 111.50,121.03 112.10,120.85 112.70,120.65 113.30,120.49 113.90,121.05 114.50,121.14 115.10,120.51 115.70,121.01 116.30,120.74 116.90,120.56 117.50,120.66 118.10,120.99 118.70,121.06 119.30,120.48 119.90,120.88 120.50,120.48 121.10,120.95 121.70,120.68 122.30,121.07 122.90,121.14 123.50,120.80 124.10,121.15 124.70,120.67 125.30,120.50 125.90,120.87 126.50,120.47 127.10,120.59 127.70,120.74 128.30,120.88 128.90,120.56 129.50,120.48 130.10,121.06 130.70,120.67 131.30,121.12 131.90,121.08 132.50,120.71 133.10,120.77 133.70,120.81 134.30,120.90 134.90,120.87 135.50,120.84 136.10,120.88 136.70,121.11 137.30,120.80 137.90,120.75 138.50,120.95 139.10,120.62 139.70,120.66 140.30,121.13 140.90,120.81 141.50,120.83 142.10,120.46 142.70,120.74 143.30,120.86 143.90,120.46 144.50,120.88 145.10,120.89 145.70,120.49 146.30,120.89 146.90,120.78 147.50,120.93 148.10,120.70 148.70,120.94 149.30,120.97 149.90,120.47 150.50,120.49 151.10,120.92 151.70,121.12 152.30,120.63 152.90,120.77 153.50,120.86 154.10,120.67 154.70,120.70 155.30,120.67 155.90,120.71 156.50,120.87 157.10,120.66 157.70,120.71 158.30,120.99 158.90,120.47 159.50,120.85 160.10,120.96 160.70,120.67 161.30,120.61 161.90,121.01 162.50,120.62 163.10,120.58 163.70,120.75 164.30,120.94 164.90,120.52 165.50,120.68 166.10,120.68" fill="none" stroke="#999" stroke-width="0.5"/>
<polyline points="161.00,120.80 161.30,120.76 161.60,120.66 161.90,120.52 162.20,120.34 162.50,120.13 162.80,119.89 163.10,119.61 163.40,119.31 163.70,118.98 164.00,118.62 164.30,118.24 164.60,117.83 164.90,117.39 165.20,116.94 165.50,116.46 165.80,115.95 166.10,115.43 166.40,114.88" fill="none" fill-opacity="1" stroke="#5050ff" stroke-width="0.5" stroke-linejoin="round"/>
<line x1="82.7" y1="97" x2="82.7" y2="104.5" stroke="#bbb" stroke-width="0.6"/>
<line x1="92.8" y1="97" x2="92.8" y2="110.5" stroke="#bbb" stroke-width="0.6"/>
<line x1="99.3" y1="103.3" x2="87.5" y2="119.3" stroke="#333" stroke-width="0.35"/>
<line x1="104.7" y1="109.5" x2="100" y2="114" stroke="#555" stroke-width="0.35"/>
<line x1="105.7" y1="109.5" x2="106.3" y2="115" stroke="#555" stroke-width="0.35"/>
<line x1="28.5" x2="350.0" y1="4.1" y2="4.1" stroke="#000" stroke-width="1"/>
<line x1="28.5" x2="350.0" y1="78.45" y2="78.45" stroke="#000" stroke-width="1"/>
<line x1="28.5" x2="350.0" y1="153.45" y2="153.45" stroke="#000" stroke-width="1"/>
<line x1="28.5" x2="350.0" y1="228.15" y2="228.15" stroke="#000" stroke-width="1.2"/>
<line x1="28.85" x2="28.85" y1="3.5999999999999996" y2="228.65" stroke="#000" stroke-width="1.5" stroke-opacity="0.9"/>
<line x1="350.0" x2="350.0" y1="3.5999999999999996" y2="228.65" stroke="#000" stroke-width="1.4" stroke-opacity="0.85"/>
<line x1="28.50" x2="28.50" y1="4.1" y2="7.8999999999999995" stroke="#000" stroke-width="0.8"/>
<line x1="37.69" x2="37.69" y1="4.1" y2="6.0" stroke="#000" stroke-width="0.8"/>
<line x1="46.87" x2="46.87" y1="4.1" y2="6.0" stroke="#000" stroke-width="0.8"/>
<line x1="56.06" x2="56.06" y1="4.1" y2="6.0" stroke="#000" stroke-width="0.8"/>
<line x1="65.24" x2="65.24" y1="4.1" y2="6.0" stroke="#000" stroke-width="0.8"/>
<line x1="74.43" x2="74.43" y1="4.1" y2="7.8999999999999995" stroke="#000" stroke-width="0.8"/>
<line x1="83.61" x2="83.61" y1="4.1" y2="6.0" stroke="#000" stroke-width="0.8"/>
<line x1="92.80" x2="92.80" y1="4.1" y2="6.0" stroke="#000" stroke-width="0.8"/>
<line x1="101.99" x2="101.99" y1="4.1" y2="6.0" stroke="#000" stroke-width="0.8"/>
<line x1="111.17" x2="111.17" y1="4.1" y2="6.0" stroke="#000" stroke-width="0.8"/>
<line x1="120.36" x2="120.36" y1="4.1" y2="7.8999999999999995" stroke="#000" stroke-width="0.8"/>
<line x1="129.54" x2="129.54" y1="4.1" y2="6.0" stroke="#000" stroke-width="0.8"/>
<line x1="138.73" x2="138.73" y1="4.1" y2="6.0" stroke="#000" stroke-width="0.8"/>
<line x1="147.91" x2="147.91" y1="4.1" y2="6.0" stroke="#000" stroke-width="0.8"/>
<line x1="157.10" x2="157.10" y1="4.1" y2="6.0" stroke="#000" stroke-width="0.8"/>
<line x1="166.29" x2="166.29" y1="4.1" y2="7.8999999999999995" stroke="#000" stroke-width="0.8"/>
<line x1="175.47" x2="175.47" y1="4.1" y2="6.0" stroke="#000" stroke-width="0.8"/>
<line x1="184.66" x2="184.66" y1="4.1" y2="6.0" stroke="#000" stroke-width="0.8"/>
<line x1="193.84" x2="193.84" y1="4.1" y2="6.0" stroke="#000" stroke-width="0.8"/>
<line x1="203.03" x2="203.03" y1="4.1" y2="6.0" stroke="#000" stroke-width="0.8"/>
<line x1="212.21" x2="212.21" y1="4.1" y2="7.8999999999999995" stroke="#000" stroke-width="0.8"/>
<line x1="221.40" x2="221.40" y1="4.1" y2="6.0" stroke="#000" stroke-width="0.8"/>
<line x1="230.59" x2="230.59" y1="4.1" y2="6.0" stroke="#000" stroke-width="0.8"/>
<line x1="239.77" x2="239.77" y1="4.1" y2="6.0" stroke="#000" stroke-width="0.8"/>
<line x1="248.96" x2="248.96" y1="4.1" y2="6.0" stroke="#000" stroke-width="0.8"/>
<line x1="258.14" x2="258.14" y1="4.1" y2="7.8999999999999995" stroke="#000" stroke-width="0.8"/>
<line x1="267.33" x2="267.33" y1="4.1" y2="6.0" stroke="#000" stroke-width="0.8"/>
<line x1="276.51" x2="276.51" y1="4.1" y2="6.0" stroke="#000" stroke-width="0.8"/>
<line x1="285.70" x2="285.70" y1="4.1" y2="6.0" stroke="#000" stroke-width="0.8"/>
<line x1="294.89" x2="294.89" y1="4.1" y2="6.0" stroke="#000" stroke-width="0.8"/>
<line x1="304.07" x2="304.07" y1="4.1" y2="7.8999999999999995" stroke="#000" stroke-width="0.8"/>
<line x1="313.26" x2="313.26" y1="4.1" y2="6.0" stroke="#000" stroke-width="0.8"/>
<line x1="322.44" x2="322.44" y1="4.1" y2="6.0" stroke="#000" stroke-width="0.8"/>
<line x1="331.63" x2="331.63" y1="4.1" y2="6.0" stroke="#000" stroke-width="0.8"/>
<line x1="340.81" x2="340.81" y1="4.1" y2="6.0" stroke="#000" stroke-width="0.8"/>
<line x1="350.00" x2="350.00" y1="4.1" y2="7.8999999999999995" stroke="#000" stroke-width="0.8"/>
<line x1="28.50" x2="28.50" y1="78.45" y2="82.25" stroke="#000" stroke-width="0.8"/>
<line x1="37.69" x2="37.69" y1="78.45" y2="80.35000000000001" stroke="#000" stroke-width="0.8"/>
<line x1="46.87" x2="46.87" y1="78.45" y2="80.35000000000001" stroke="#000" stroke-width="0.8"/>
<line x1="56.06" x2="56.06" y1="78.45" y2="80.35000000000001" stroke="#000" stroke-width="0.8"/>
<line x1="65.24" x2="65.24" y1="78.45" y2="80.35000000000001" stroke="#000" stroke-width="0.8"/>
<line x1="74.43" x2="74.43" y1="78.45" y2="82.25" stroke="#000" stroke-width="0.8"/>
<line x1="83.61" x2="83.61" y1="78.45" y2="80.35000000000001" stroke="#000" stroke-width="0.8"/>
<line x1="92.80" x2="92.80" y1="78.45" y2="80.35000000000001" stroke="#000" stroke-width="0.8"/>
<line x1="101.99" x2="101.99" y1="78.45" y2="80.35000000000001" stroke="#000" stroke-width="0.8"/>
<line x1="111.17" x2="111.17" y1="78.45" y2="80.35000000000001" stroke="#000" stroke-width="0.8"/>
<line x1="120.36" x2="120.36" y1="78.45" y2="82.25" stroke="#000" stroke-width="0.8"/>
<line x1="129.54" x2="129.54" y1="78.45" y2="80.35000000000001" stroke="#000" stroke-width="0.8"/>
<line x1="138.73" x2="138.73" y1="78.45" y2="80.35000000000001" stroke="#000" stroke-width="0.8"/>
<line x1="147.91" x2="147.91" y1="78.45" y2="80.35000000000001" stroke="#000" stroke-width="0.8"/>
<line x1="157.10" x2="157.10" y1="78.45" y2="80.35000000000001" stroke="#000" stroke-width="0.8"/>
<line x1="166.29" x2="166.29" y1="78.45" y2="82.25" stroke="#000" stroke-width="0.8"/>
<line x1="175.47" x2="175.47" y1="78.45" y2="80.35000000000001" stroke="#000" stroke-width="0.8"/>
<line x1="184.66" x2="184.66" y1="78.45" y2="80.35000000000001" stroke="#000" stroke-width="0.8"/>
<line x1="193.84" x2="193.84" y1="78.45" y2="80.35000000000001" stroke="#000" stroke-width="0.8"/>
<line x1="203.03" x2="203.03" y1="78.45" y2="80.35000000000001" stroke="#000" stroke-width="0.8"/>
<line x1="212.21" x2="212.21" y1="78.45" y2="82.25" stroke="#000" stroke-width="0.8"/>
<line x1="221.40" x2="221.40" y1="78.45" y2="80.35000000000001" stroke="#000" stroke-width="0.8"/>
<line x1="230.59" x2="230.59" y1="78.45" y2="80.35000000000001" stroke="#000" stroke-width="0.8"/>
<line x1="239.77" x2="239.77" y1="78.45" y2="80.35000000000001" stroke="#000" stroke-width="0.8"/>
<line x1="248.96" x2="248.96" y1="78.45" y2="80.35000000000001" stroke="#000" stroke-width="0.8"/>
<line x1="258.14" x2="258.14" y1="78.45" y2="82.25" stroke="#000" stroke-width="0.8"/>
<line x1="267.33" x2="267.33" y1="78.45" y2="80.35000000000001" stroke="#000" stroke-width="0.8"/>
<line x1="276.51" x2="276.51" y1="78.45" y2="80.35000000000001" stroke="#000" stroke-width="0.8"/>
<line x1="285.70" x2="285.70" y1="78.45" y2="80.35000000000001" stroke="#000" stroke-width="0.8"/>
<line x1="294.89" x2="294.89" y1="78.45" y2="80.35000000000001" stroke="#000" stroke-width="0.8"/>
<line x1="304.07" x2="304.07" y1="78.45" y2="82.25" stroke="#000" stroke-width="0.8"/>
<line x1="313.26" x2="313.26" y1="78.45" y2="80.35000000000001" stroke="#000" stroke-width="0.8"/>
<line x1="322.44" x2="322.44" y1="78.45" y2="80.35000000000001" stroke="#000" stroke-width="0.8"/>
<line x1="331.63" x2="331.63" y1="78.45" y2="80.35000000000001" stroke="#000" stroke-width="0.8"/>
<line x1="340.81" x2="340.81" y1="78.45" y2="80.35000000000001" stroke="#000" stroke-width="0.8"/>
<line x1="350.00" x2="350.00" y1="78.45" y2="82.25" stroke="#000" stroke-width="0.8"/>
<line x1="28.50" x2="28.50" y1="153.45" y2="157.25" stroke="#000" stroke-width="0.8"/>
<line x1="37.69" x2="37.69" y1="153.45" y2="155.35" stroke="#000" stroke-width="0.8"/>
<line x1="46.87" x2="46.87" y1="153.45" y2="155.35" stroke="#000" stroke-width="0.8"/>
<line x1="56.06" x2="56.06" y1="153.45" y2="155.35" stroke="#000" stroke-width="0.8"/>
<line x1="65.24" x2="65.24" y1="153.45" y2="155.35" stroke="#000" stroke-width="0.8"/>
<line x1="74.43" x2="74.43" y1="153.45" y2="157.25" stroke="#000" stroke-width="0.8"/>
<line x1="83.61" x2="83.61" y1="153.45" y2="155.35" stroke="#000" stroke-width="0.8"/>
<line x1="92.80" x2="92.80" y1="153.45" y2="155.35" stroke="#000" stroke-width="0.8"/>
<line x1="101.99" x2="101.99" y1="153.45" y2="155.35" stroke="#000" stroke-width="0.8"/>
<line x1="111.17" x2="111.17" y1="153.45" y2="155.35" stroke="#000" stroke-width="0.8"/>
<line x1="120.36" x2="120.36" y1="153.45" y2="157.25" stroke="#000" stroke-width="0.8"/>
<line x1="129.54" x2="129.54" y1="153.45" y2="155.35" stroke="#000" stroke-width="0.8"/>
<line x1="138.73" x2="138.73" y1="153.45" y2="155.35" stroke="#000" stroke-width="0.8"/>
<line x1="147.91" x2="147.91" y1="153.45" y2="155.35" stroke="#000" stroke-width="0.8"/>
<line x1="157.10" x2="157.10" y1="153.45" y2="155.35" stroke="#000" stroke-width="0.8"/>
<line x1="166.29" x2="166.29" y1="153.45" y2="157.25" stroke="#000" stroke-width="0.8"/>
<line x1="175.47" x2="175.47" y1="153.45" y2="155.35" stroke="#000" stroke-width="0.8"/>
<line x1="184.66" x2="184.66" y1="153.45" y2="155.35" stroke="#000" stroke-width="0.8"/>
<line x1="193.84" x2="193.84" y1="153.45" y2="155.35" stroke="#000" stroke-width="0.8"/>
<line x1="203.03" x2="203.03" y1="153.45" y2="155.35" stroke="#000" stroke-width="0.8"/>
<line x1="212.21" x2="212.21" y1="153.45" y2="157.25" stroke="#000" stroke-width="0.8"/>
<line x1="221.40" x2="221.40" y1="153.45" y2="155.35" stroke="#000" stroke-width="0.8"/>
<line x1="230.59" x2="230.59" y1="153.45" y2="155.35" stroke="#000" stroke-width="0.8"/>
<line x1="239.77" x2="239.77" y1="153.45" y2="155.35" stroke="#000" stroke-width="0.8"/>
<line x1="248.96" x2="248.96" y1="153.45" y2="155.35" stroke="#000" stroke-width="0.8"/>
<line x1="258.14" x2="258.14" y1="153.45" y2="157.25" stroke="#000" stroke-width="0.8"/>
<line x1="267.33" x2="267.33" y1="153.45" y2="155.35" stroke="#000" stroke-width="0.8"/>
<line x1="276.51" x2="276.51" y1="153.45" y2="155.35" stroke="#000" stroke-width="0.8"/>
<line x1="285.70" x2="285.70" y1="153.45" y2="155.35" stroke="#000" stroke-width="0.8"/>
<line x1="294.89" x2="294.89" y1="153.45" y2="155.35" stroke="#000" stroke-width="0.8"/>
<line x1="304.07" x2="304.07" y1="153.45" y2="157.25" stroke="#000" stroke-width="0.8"/>
<line x1="313.26" x2="313.26" y1="153.45" y2="155.35" stroke="#000" stroke-width="0.8"/>
<line x1="322.44" x2="322.44" y1="153.45" y2="155.35" stroke="#000" stroke-width="0.8"/>
<line x1="331.63" x2="331.63" y1="153.45" y2="155.35" stroke="#000" stroke-width="0.8"/>
<line x1="340.81" x2="340.81" y1="153.45" y2="155.35" stroke="#000" stroke-width="0.8"/>
<line x1="350.00" x2="350.00" y1="153.45" y2="157.25" stroke="#000" stroke-width="0.8"/>
<line x1="28.50" x2="28.50" y1="228.15" y2="231.95000000000002" stroke="#000" stroke-width="0.8"/>
<line x1="37.69" x2="37.69" y1="228.15" y2="230.05" stroke="#000" stroke-width="0.8"/>
<line x1="46.87" x2="46.87" y1="228.15" y2="230.05" stroke="#000" stroke-width="0.8"/>
<line x1="56.06" x2="56.06" y1="228.15" y2="230.05" stroke="#000" stroke-width="0.8"/>
<line x1="65.24" x2="65.24" y1="228.15" y2="230.05" stroke="#000" stroke-width="0.8"/>
<line x1="74.43" x2="74.43" y1="228.15" y2="231.95000000000002" stroke="#000" stroke-width="0.8"/>
<line x1="83.61" x2="83.61" y1="228.15" y2="230.05" stroke="#000" stroke-width="0.8"/>
<line x1="92.80" x2="92.80" y1="228.15" y2="230.05" stroke="#000" stroke-width="0.8"/>
<line x1="101.99" x2="101.99" y1="228.15" y2="230.05" stroke="#000" stroke-width="0.8"/>
<line x1="111.17" x2="111.17" y1="228.15" y2="230.05" stroke="#000" stroke-width="0.8"/>
<line x1="120.36" x2="120.36" y1="228.15" y2="231.95000000000002" stroke="#000" stroke-width="0.8"/>
<line x1="129.54" x2="129.54" y1="228.15" y2="230.05" stroke="#000" stroke-width="0.8"/>
<line x1="138.73" x2="138.73" y1="228.15" y2="230.05" stroke="#000" stroke-width="0.8"/>
<line x1="147.91" x2="147.91" y1="228.15" y2="230.05" stroke="#000" stroke-width="0.8"/>
<line x1="157.10" x2="157.10" y1="228.15" y2="230.05" stroke="#000" stroke-width="0.8"/>
<line x1="166.29" x2="166.29" y1="228.15" y2="231.95000000000002" stroke="#000" stroke-width="0.8"/>
<line x1="175.47" x2="175.47" y1="228.15" y2="230.05" stroke="#000" stroke-width="0.8"/>
<line x1="184.66" x2="184.66" y1="228.15" y2="230.05" stroke="#000" stroke-width="0.8"/>
<line x1="193.84" x2="193.84" y1="228.15" y2="230.05" stroke="#000" stroke-width="0.8"/>
<line x1="203.03" x2="203.03" y1="228.15" y2="230.05" stroke="#000" stroke-width="0.8"/>
<line x1="212.21" x2="212.21" y1="228.15" y2="231.95000000000002" stroke="#000" stroke-width="0.8"/>
<line x1="221.40" x2="221.40" y1="228.15" y2="230.05" stroke="#000" stroke-width="0.8"/>
<line x1="230.59" x2="230.59" y1="228.15" y2="230.05" stroke="#000" stroke-width="0.8"/>
<line x1="239.77" x2="239.77" y1="228.15" y2="230.05" stroke="#000" stroke-width="0.8"/>
<line x1="248.96" x2="248.96" y1="228.15" y2="230.05" stroke="#000" stroke-width="0.8"/>
<line x1="258.14" x2="258.14" y1="228.15" y2="231.95000000000002" stroke="#000" stroke-width="0.8"/>
<line x1="267.33" x2="267.33" y1="228.15" y2="230.05" stroke="#000" stroke-width="0.8"/>
<line x1="276.51" x2="276.51" y1="228.15" y2="230.05" stroke="#000" stroke-width="0.8"/>
<line x1="285.70" x2="285.70" y1="228.15" y2="230.05" stroke="#000" stroke-width="0.8"/>
<line x1="294.89" x2="294.89" y1="228.15" y2="230.05" stroke="#000" stroke-width="0.8"/>
<line x1="304.07" x2="304.07" y1="228.15" y2="231.95000000000002" stroke="#000" stroke-width="0.8"/>
<line x1="313.26" x2="313.26" y1="228.15" y2="230.05" stroke="#000" stroke-width="0.8"/>
<line x1="322.44" x2="322.44" y1="228.15" y2="230.05" stroke="#000" stroke-width="0.8"/>
<line x1="331.63" x2="331.63" y1="228.15" y2="230.05" stroke="#000" stroke-width="0.8"/>
<line x1="340.81" x2="340.81" y1="228.15" y2="230.05" stroke="#000" stroke-width="0.8"/>
<line x1="350.00" x2="350.00" y1="228.15" y2="231.95000000000002" stroke="#000" stroke-width="0.8"/>
<line x1="24.5" x2="28.5" y1="75.70" y2="75.70" stroke="#000" stroke-width="0.8"/>
<line x1="26.5" x2="28.5" y1="61.38" y2="61.38" stroke="#000" stroke-width="0.8"/>
<line x1="26.5" x2="28.5" y1="47.06" y2="47.06" stroke="#000" stroke-width="0.8"/>
<line x1="26.5" x2="28.5" y1="32.74" y2="32.74" stroke="#000" stroke-width="0.8"/>
<line x1="26.5" x2="28.5" y1="18.42" y2="18.42" stroke="#000" stroke-width="0.8"/>
<line x1="24.5" x2="28.5" y1="4.10" y2="4.10" stroke="#000" stroke-width="0.8"/>
<line x1="24.5" x2="28.5" y1="151.00" y2="151.00" stroke="#000" stroke-width="0.8"/>
<line x1="26.5" x2="28.5" y1="138.70" y2="138.70" stroke="#000" stroke-width="0.8"/>
<line x1="26.5" x2="28.5" y1="126.40" y2="126.40" stroke="#000" stroke-width="0.8"/>
<line x1="26.5" x2="28.5" y1="114.10" y2="114.10" stroke="#000" stroke-width="0.8"/>
<line x1="26.5" x2="28.5" y1="101.80" y2="101.80" stroke="#000" stroke-width="0.8"/>
<line x1="24.5" x2="28.5" y1="89.50" y2="89.50" stroke="#000" stroke-width="0.8"/>
<line x1="24.5" x2="28.5" y1="222.30" y2="222.30" stroke="#000" stroke-width="0.8"/>
<line x1="26.5" x2="28.5" y1="210.60" y2="210.60" stroke="#000" stroke-width="0.8"/>
<line x1="26.5" x2="28.5" y1="198.90" y2="198.90" stroke="#000" stroke-width="0.8"/>
<line x1="26.5" x2="28.5" y1="187.20" y2="187.20" stroke="#000" stroke-width="0.8"/>
<line x1="26.5" x2="28.5" y1="175.50" y2="175.50" stroke="#000" stroke-width="0.8"/>
<line x1="24.5" x2="28.5" y1="163.80" y2="163.80" stroke="#000" stroke-width="0.8"/>
<text x="22" y="6.70" text-anchor="end" font-size="8.8" font-family="Liberation Sans, sans-serif" fill="#111" stroke="#111" stroke-width="0.12">0.5</text>
<text x="22" y="78.30" text-anchor="end" font-size="8.8" font-family="Liberation Sans, sans-serif" fill="#111" stroke="#111" stroke-width="0.12">0.0</text>
<text x="22" y="92.10" text-anchor="end" font-size="8.8" font-family="Liberation Sans, sans-serif" fill="#111" stroke="#111" stroke-width="0.12">0.5</text>
<text x="22" y="153.60" text-anchor="end" font-size="8.8" font-family="Liberation Sans, sans-serif" fill="#111" stroke="#111" stroke-width="0.12">0.0</text>
<text x="22" y="166.40" text-anchor="end" font-size="8.8" font-family="Liberation Sans, sans-serif" fill="#111" stroke="#111" stroke-width="0.12">0.005</text>
<text x="22" y="224.90" text-anchor="end" font-size="8.8" font-family="Liberation Sans, sans-serif" fill="#111" stroke="#111" stroke-width="0.12">0.000</text>
<text x="28.50" y="241.6" text-anchor="middle" font-size="8.8" font-family="Liberation Sans, sans-serif" fill="#111" stroke="#111" stroke-width="0.12">4000</text>
<text x="74.43" y="241.6" text-anchor="middle" font-size="8.8" font-family="Liberation Sans, sans-serif" fill="#111" stroke="#111" stroke-width="0.12">3500</text>
<text x="120.36" y="241.6" text-anchor="middle" font-size="8.8" font-family="Liberation Sans, sans-serif" fill="#111" stroke="#111" stroke-width="0.12">3000</text>
<text x="166.29" y="241.6" text-anchor="middle" font-size="8.8" font-family="Liberation Sans, sans-serif" fill="#111" stroke="#111" stroke-width="0.12">2500</text>
<text x="212.21" y="241.6" text-anchor="middle" font-size="8.8" font-family="Liberation Sans, sans-serif" fill="#111" stroke="#111" stroke-width="0.12">2000</text>
<text x="258.14" y="241.6" text-anchor="middle" font-size="8.8" font-family="Liberation Sans, sans-serif" fill="#111" stroke="#111" stroke-width="0.12">1500</text>
<text x="304.07" y="241.6" text-anchor="middle" font-size="8.8" font-family="Liberation Sans, sans-serif" fill="#111" stroke="#111" stroke-width="0.12">1000</text>
<text x="350.00" y="241.6" text-anchor="middle" font-size="8.8" font-family="Liberation Sans, sans-serif" fill="#111" stroke="#111" stroke-width="0.12">500</text>
<text x="153.5" y="251.5" font-size="8.8" font-family="Liberation Sans, sans-serif" fill="#111" stroke="#111" stroke-width="0.12">Wavenumber (cm<tspan font-size="5.5" dy="-3.2">-1</tspan><tspan dy="3.2">)</tspan></text>
<text transform="translate(7.6,116.5) rotate(-90)" text-anchor="middle" font-size="8.2" font-family="Liberation Sans, sans-serif" fill="#000" stroke="#000" stroke-width="0.28" style="will-change:auto">Absorbance</text>
<text x="31" y="12.3" font-size="5.0" font-family="Liberation Sans, sans-serif" fill="#111" stroke="#111" stroke-width="0.08">Before irradiation</text>
<text x="32.0" y="88.2" font-size="5.0" font-family="Liberation Sans, sans-serif" fill="#111" stroke="#111" stroke-width="0.08">After irradiation</text>
<text x="32.6" y="162.6" font-size="5.0" font-family="Liberation Sans, sans-serif" fill="#111" stroke="#111" stroke-width="0.08">Residue</text>
<text x="60" y="53.5" text-anchor="middle" font-size="3.6" font-family="Liberation Sans, sans-serif" fill="#111" stroke="#111" stroke-width="0.13"><tspan>CO</tspan><tspan font-size="70%" dy="0.80">2</tspan></text>
<text x="60.5" y="59.3" text-anchor="middle" font-size="3.6" font-family="Liberation Sans, sans-serif" fill="#111" stroke="#111" stroke-width="0.13"><tspan>(ν</tspan><tspan font-size="70%" dy="0.80">1</tspan><tspan dy="-0.80">+ν</tspan><tspan font-size="70%" dy="0.80">3</tspan><tspan dy="-0.80">) (2ν</tspan><tspan font-size="70%" dy="0.80">2</tspan><tspan dy="-0.80">+ν</tspan><tspan font-size="70%" dy="0.80">3</tspan><tspan dy="-0.80">)</tspan></text>
<line x1="56.5" y1="60.5" x2="56.5" y2="64.5" stroke="#999" stroke-width="0.4"/>
<line x1="66.5" y1="60.5" x2="66.5" y2="70.4" stroke="#999" stroke-width="0.4"/>
<text x="86.7" y="59.3" text-anchor="middle" font-size="3.6" font-family="Liberation Sans, sans-serif" fill="#111" stroke="#111" stroke-width="0.13"><tspan>PH</tspan><tspan font-size="70%" dy="0.80">3</tspan></text>
<text x="87.7" y="65.2" text-anchor="middle" font-size="3.6" font-family="Liberation Sans, sans-serif" fill="#111" stroke="#111" stroke-width="0.13"><tspan>(ν</tspan><tspan font-size="70%" dy="0.80">1</tspan><tspan dy="-0.80">+ν</tspan><tspan font-size="70%" dy="0.80">4</tspan><tspan dy="-0.80">) (ν</tspan><tspan font-size="70%" dy="0.80">3</tspan><tspan dy="-0.80">+ν</tspan><tspan font-size="70%" dy="0.80">4</tspan><tspan dy="-0.80">)</tspan></text>
<line x1="83.1" y1="66.5" x2="83.1" y2="74.5" stroke="#bbb" stroke-width="0.5"/>
<line x1="92.6" y1="66.5" x2="92.6" y2="74.5" stroke="#bbb" stroke-width="0.5"/>
<text x="167.6" y="61.8" text-anchor="middle" font-size="3.6" font-family="Liberation Sans, sans-serif" fill="#111" stroke="#111" stroke-width="0.13"><tspan>PH</tspan><tspan font-size="70%" dy="0.80">3</tspan></text>
<text x="167.5" y="66.9" text-anchor="middle" font-size="3.6" font-family="Liberation Sans, sans-serif" fill="#111" stroke="#111" stroke-width="0.13"><tspan>(ν</tspan><tspan font-size="70%" dy="0.80">1</tspan><tspan dy="-0.80">+ν</tspan><tspan font-size="70%" dy="0.80">2</tspan><tspan dy="-0.80">)</tspan></text>
<line x1="168.3" y1="69.8" x2="170.2" y2="73" stroke="#999" stroke-width="0.4"/>
<text x="173.5" y="11.0" text-anchor="middle" font-size="3.6" font-family="Liberation Sans, sans-serif" fill="#111" stroke="#111" stroke-width="0.13"><tspan>CO</tspan><tspan font-size="70%" dy="0.80">2</tspan><tspan dy="-0.80"> (ν</tspan><tspan font-size="70%" dy="0.80">3</tspan><tspan dy="-0.80">)</tspan><tspan font-size="70%" dy="0.80">max</tspan></text>
<text x="193" y="34.9" text-anchor="middle" font-size="3.6" font-family="Liberation Sans, sans-serif" fill="#111" stroke="#111" stroke-width="0.13"><tspan>PH</tspan><tspan font-size="70%" dy="0.80">3</tspan><tspan dy="-0.80">(ν</tspan><tspan font-size="70%" dy="0.80">1</tspan><tspan dy="-0.80">,ν</tspan><tspan font-size="70%" dy="0.80">3</tspan><tspan dy="-0.80">)</tspan></text>
<line x1="186.3" y1="35.6" x2="184.2" y2="50.8" stroke="#999" stroke-width="0.4"/>
<text x="196" y="47.9" text-anchor="middle" font-size="3.6" font-family="Liberation Sans, sans-serif" fill="#111" stroke="#111" stroke-width="0.13"><tspan font-size="70%" dy="-1.20">13</tspan><tspan dy="1.20">CO</tspan><tspan font-size="70%" dy="0.80">2</tspan><tspan dy="-0.80">(ν</tspan><tspan font-size="70%" dy="0.80">3</tspan><tspan dy="-0.80">)</tspan></text>
<line x1="189.5" y1="48.5" x2="186.6" y2="52.5" stroke="#999" stroke-width="0.4"/>
<text x="193.4" y="62.5" text-anchor="middle" font-size="3.6" font-family="Liberation Sans, sans-serif" fill="#111" stroke="#111" stroke-width="0.13"><tspan>PH</tspan><tspan font-size="70%" dy="0.80">3</tspan></text>
<text x="193.6" y="67" text-anchor="middle" font-size="3.6" font-family="Liberation Sans, sans-serif" fill="#111" stroke="#111" stroke-width="0.13"><tspan>(2ν</tspan><tspan font-size="70%" dy="0.80">4</tspan><tspan dy="-0.80">)</tspan></text>
<line x1="193.3" y1="67.8" x2="193.3" y2="71.8" stroke="#999" stroke-width="0.4"/>
<text x="205.7" y="62.5" text-anchor="middle" font-size="3.6" font-family="Liberation Sans, sans-serif" fill="#111" stroke="#111" stroke-width="0.13"><tspan>PH</tspan><tspan font-size="70%" dy="0.80">3</tspan></text>
<text x="206.2" y="67" text-anchor="middle" font-size="3.6" font-family="Liberation Sans, sans-serif" fill="#111" stroke="#111" stroke-width="0.13"><tspan>(ν</tspan><tspan font-size="70%" dy="0.80">2</tspan><tspan dy="-0.80">+ν</tspan><tspan font-size="70%" dy="0.80">4</tspan><tspan dy="-0.80">)</tspan></text>
<line x1="205.5" y1="68.3" x2="205.5" y2="74" stroke="#999" stroke-width="0.4"/>
<text x="295.2" y="60.6" text-anchor="middle" font-size="3.6" font-family="Liberation Sans, sans-serif" fill="#111" stroke="#111" stroke-width="0.13"><tspan>PH</tspan><tspan font-size="70%" dy="0.80">3</tspan></text>
<text x="295.2" y="65.4" text-anchor="middle" font-size="3.6" font-family="Liberation Sans, sans-serif" fill="#111" stroke="#111" stroke-width="0.13"><tspan>(ν</tspan><tspan font-size="70%" dy="0.80">2</tspan><tspan dy="-0.80">)</tspan></text>
<text x="305.5" y="58.7" text-anchor="middle" font-size="3.6" font-family="Liberation Sans, sans-serif" fill="#111" stroke="#111" stroke-width="0.13"><tspan>PH</tspan><tspan font-size="70%" dy="0.80">3</tspan></text>
<text x="305.5" y="63.6" text-anchor="middle" font-size="3.6" font-family="Liberation Sans, sans-serif" fill="#111" stroke="#111" stroke-width="0.13"><tspan>(ν</tspan><tspan font-size="70%" dy="0.80">4</tspan><tspan dy="-0.80">)</tspan></text>
<text x="335" y="48" text-anchor="middle" font-size="3.6" font-family="Liberation Sans, sans-serif" fill="#111" stroke="#111" stroke-width="0.13"><tspan>CO</tspan><tspan font-size="70%" dy="0.80">2</tspan></text>
<text x="335" y="53" text-anchor="middle" font-size="3.6" font-family="Liberation Sans, sans-serif" fill="#111" stroke="#111" stroke-width="0.13"><tspan>(ν</tspan><tspan font-size="70%" dy="0.80">2</tspan><tspan dy="-0.80">)</tspan></text>
<text x="61.5" y="130.2" text-anchor="middle" font-size="3.6" font-family="Liberation Sans, sans-serif" fill="#111" stroke="#111" stroke-width="0.13"><tspan>CO</tspan><tspan font-size="70%" dy="0.80">2</tspan></text>
<text x="60" y="135.8" text-anchor="middle" font-size="3.6" font-family="Liberation Sans, sans-serif" fill="#111" stroke="#111" stroke-width="0.13"><tspan>(ν</tspan><tspan font-size="70%" dy="0.80">1</tspan><tspan dy="-0.80">+ν</tspan><tspan font-size="70%" dy="0.80">3</tspan><tspan dy="-0.80">) (2ν</tspan><tspan font-size="70%" dy="0.80">2</tspan><tspan dy="-0.80">+ν</tspan><tspan font-size="70%" dy="0.80">3</tspan><tspan dy="-0.80">)</tspan></text>
<line x1="56.3" y1="137" x2="56.3" y2="142" stroke="#999" stroke-width="0.4"/>
<line x1="66.1" y1="137" x2="66.1" y2="146" stroke="#999" stroke-width="0.4"/>
<text x="88.3" y="90.0" text-anchor="middle" font-size="3.6" font-family="Liberation Sans, sans-serif" fill="#111" stroke="#111" stroke-width="0.13"><tspan>PH</tspan><tspan font-size="70%" dy="0.80">3</tspan></text>
<text x="87.8" y="95.8" text-anchor="middle" font-size="3.6" font-family="Liberation Sans, sans-serif" fill="#111" stroke="#111" stroke-width="0.13"><tspan>(ν</tspan><tspan font-size="70%" dy="0.80">1</tspan><tspan dy="-0.80">+ν</tspan><tspan font-size="70%" dy="0.80">4</tspan><tspan dy="-0.80">)(ν</tspan><tspan font-size="70%" dy="0.80">3</tspan><tspan dy="-0.80">+ν</tspan><tspan font-size="70%" dy="0.80">4</tspan><tspan dy="-0.80">)</tspan></text>
<text x="105" y="102.7" text-anchor="middle" font-size="3.6" font-family="Liberation Sans, sans-serif" fill="#111" stroke="#111" stroke-width="0.13"><tspan>H</tspan><tspan font-size="70%" dy="0.80">2</tspan><tspan dy="-0.80">O (ν</tspan><tspan font-size="70%" dy="0.80">s</tspan><tspan dy="-0.80">)A3</tspan></text>
<text x="114.3" y="109.4" text-anchor="middle" font-size="3.6" font-family="Liberation Sans, sans-serif" fill="#111" stroke="#111" stroke-width="0.13"><tspan>H</tspan><tspan font-size="70%" dy="0.80">2</tspan><tspan dy="-0.80">O (ν</tspan><tspan font-size="70%" dy="0.80">s</tspan><tspan dy="-0.80">)T3</tspan></text>
<text x="170.7" y="87.6" text-anchor="middle" font-size="3.6" font-family="Liberation Sans, sans-serif" fill="#111" stroke="#111" stroke-width="0.13"><tspan>CO</tspan><tspan font-size="70%" dy="0.80">2</tspan><tspan dy="-0.80"> (ν</tspan><tspan font-size="70%" dy="0.80">3</tspan><tspan dy="-0.80">)</tspan></text>
<line x1="177.3" y1="87.8" x2="181" y2="91.2" stroke="#444" stroke-width="0.4"/>
<text x="182.0" y="92.2" text-anchor="middle" font-size="2.6" font-family="Liberation Sans, sans-serif" fill="#444" stroke="#444" stroke-width="0.13"><tspan>max</tspan></text>
<text x="167" y="137.6" text-anchor="middle" font-size="3.6" font-family="Liberation Sans, sans-serif" fill="#111" stroke="#111" stroke-width="0.13"><tspan>PH</tspan><tspan font-size="70%" dy="0.80">3</tspan></text>
<text x="168.3" y="142.7" text-anchor="middle" font-size="3.6" font-family="Liberation Sans, sans-serif" fill="#111" stroke="#111" stroke-width="0.13"><tspan>(ν</tspan><tspan font-size="70%" dy="0.80">1</tspan><tspan dy="-0.80">+ν</tspan><tspan font-size="70%" dy="0.80">2</tspan><tspan dy="-0.80">)</tspan></text>
<line x1="168.7" y1="143.7" x2="171" y2="148" stroke="#999" stroke-width="0.4"/>
<text x="192" y="113.8" text-anchor="middle" font-size="3.6" font-family="Liberation Sans, sans-serif" fill="#111" stroke="#111" stroke-width="0.13"><tspan>PH</tspan><tspan font-size="70%" dy="0.80">3</tspan><tspan dy="-0.80">(ν</tspan><tspan font-size="70%" dy="0.80">1</tspan><tspan dy="-0.80">,ν</tspan><tspan font-size="70%" dy="0.80">3</tspan><tspan dy="-0.80">)</tspan></text>
<line x1="185.2" y1="115" x2="186.2" y2="128" stroke="#999" stroke-width="0.4"/>
<text x="196" y="123.8" text-anchor="middle" font-size="3.6" font-family="Liberation Sans, sans-serif" fill="#111" stroke="#111" stroke-width="0.13"><tspan font-size="70%" dy="-1.20">13</tspan><tspan dy="1.20">CO</tspan><tspan font-size="70%" dy="0.80">2</tspan><tspan dy="-0.80">(ν</tspan><tspan font-size="70%" dy="0.80">3</tspan><tspan dy="-0.80">)</tspan></text>
<line x1="190.2" y1="124.2" x2="187.4" y2="128.6" stroke="#999" stroke-width="0.4"/>
<text x="203.3" y="133.2" text-anchor="middle" font-size="3.6" font-family="Liberation Sans, sans-serif" fill="#111" stroke="#111" stroke-width="0.13"><tspan>P</tspan><tspan font-size="70%" dy="0.80">2</tspan><tspan dy="-0.80">H</tspan><tspan font-size="70%" dy="0.80">4</tspan><tspan dy="-0.80"> (ν</tspan><tspan font-size="70%" dy="0.80">1</tspan><tspan dy="-0.80">,ν</tspan><tspan font-size="70%" dy="0.80">5</tspan><tspan dy="-0.80">)+(PH)</tspan></text>
<line x1="189.8" y1="134" x2="187.5" y2="140" stroke="#999" stroke-width="0.4"/>
<text x="193.4" y="141.2" text-anchor="middle" font-size="3.6" font-family="Liberation Sans, sans-serif" fill="#111" stroke="#111" stroke-width="0.13"><tspan>PH</tspan><tspan font-size="70%" dy="0.80">3</tspan></text>
<text x="193.8" y="145.6" text-anchor="middle" font-size="3.6" font-family="Liberation Sans, sans-serif" fill="#111" stroke="#111" stroke-width="0.13"><tspan>(2ν</tspan><tspan font-size="70%" dy="0.80">4</tspan><tspan dy="-0.80">)</tspan></text>
<text x="208.2" y="140.2" text-anchor="middle" font-size="3.6" font-family="Liberation Sans, sans-serif" fill="#111" stroke="#111" stroke-width="0.13"><tspan>CO(ν</tspan><tspan font-size="70%" dy="0.80">1</tspan><tspan dy="-0.80">)</tspan></text>
<line x1="201.5" y1="141.5" x2="199.3" y2="148" stroke="#999" stroke-width="0.4"/>
<text x="294.4" y="137.9" text-anchor="middle" font-size="3.6" font-family="Liberation Sans, sans-serif" fill="#111" stroke="#111" stroke-width="0.13"><tspan>PH</tspan><tspan font-size="70%" dy="0.80">3</tspan></text>
<text x="294.4" y="143.1" text-anchor="middle" font-size="3.6" font-family="Liberation Sans, sans-serif" fill="#111" stroke="#111" stroke-width="0.13"><tspan>(ν</tspan><tspan font-size="70%" dy="0.80">2</tspan><tspan dy="-0.80">)</tspan></text>
<text x="304.9" y="136.5" text-anchor="middle" font-size="3.6" font-family="Liberation Sans, sans-serif" fill="#111" stroke="#111" stroke-width="0.13"><tspan>PH</tspan><tspan font-size="70%" dy="0.80">3</tspan></text>
<text x="304.9" y="141.2" text-anchor="middle" font-size="3.6" font-family="Liberation Sans, sans-serif" fill="#111" stroke="#111" stroke-width="0.13"><tspan>(ν</tspan><tspan font-size="70%" dy="0.80">4</tspan><tspan dy="-0.80">)</tspan></text>
<text x="323" y="143.1" text-anchor="middle" font-size="3.6" font-family="Liberation Sans, sans-serif" fill="#111" stroke="#111" stroke-width="0.13"><tspan>H</tspan><tspan font-size="70%" dy="0.80">2</tspan><tspan dy="-0.80">O(ν</tspan><tspan font-size="70%" dy="0.80">L</tspan><tspan dy="-0.80">)</tspan></text>
<line x1="322.6" y1="145.5" x2="322.6" y2="149" stroke="#bbb" stroke-width="0.5"/>
<text x="334.6" y="126.2" text-anchor="middle" font-size="3.6" font-family="Liberation Sans, sans-serif" fill="#111" stroke="#111" stroke-width="0.13"><tspan>CO</tspan><tspan font-size="70%" dy="0.80">2</tspan></text>
<text x="334.6" y="130.5" text-anchor="middle" font-size="3.6" font-family="Liberation Sans, sans-serif" fill="#111" stroke="#111" stroke-width="0.13"><tspan>(ν</tspan><tspan font-size="70%" dy="0.80">2</tspan><tspan dy="-0.80">)</tspan></text>
</svg>
</body></html>
